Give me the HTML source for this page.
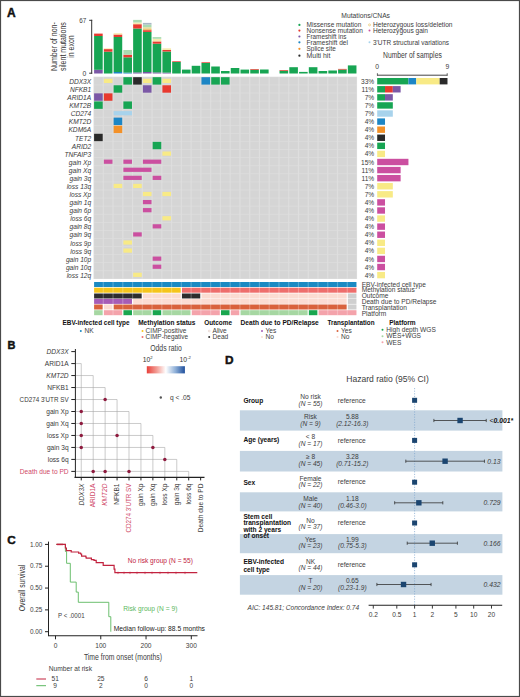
<!DOCTYPE html>
<html><head><meta charset="utf-8"><title>Figure</title>
<style>
html,body{margin:0;padding:0;background:#fff;}
body{width:520px;height:697px;overflow:hidden;}
svg{display:block;font-family:"Liberation Sans", sans-serif;}
</style></head>
<body>
<svg width="520" height="697" viewBox="0 0 520 697" fill="#3c3c3c">
<rect x="0" y="0" width="520" height="697" fill="#fff"/>
<text x="7.00" y="16.70" font-size="12" fill="#111" font-weight="bold" stroke="#111" stroke-width="0.45">A</text>
<text transform="translate(56.60,46.6) rotate(-90)" x="0" y="0" font-size="8.2" text-anchor="middle" fill="#333" textLength="49" lengthAdjust="spacingAndGlyphs">Number of non-</text>
<text transform="translate(65.60,46.6) rotate(-90)" x="0" y="0" font-size="8.2" text-anchor="middle" fill="#333" textLength="49" lengthAdjust="spacingAndGlyphs">silent mutations</text>
<text transform="translate(73.80,46.6) rotate(-90)" x="0" y="0" font-size="8.2" text-anchor="middle" fill="#333" textLength="22.5" lengthAdjust="spacingAndGlyphs">in exon</text>
<text x="86.30" y="23.11" font-size="6.8" text-anchor="end" textLength="7.00" lengthAdjust="spacingAndGlyphs">67</text>
<text x="86.30" y="75.51" font-size="6.8" text-anchor="end">0</text>
<line x1="91.70" y1="19.80" x2="91.70" y2="73.70" stroke="#333" stroke-width="1"/>
<line x1="89.20" y1="20.30" x2="92.20" y2="20.30" stroke="#333" stroke-width="1"/>
<line x1="89.20" y1="73.20" x2="92.20" y2="73.20" stroke="#333" stroke-width="1"/>
<rect x="94.10" y="69.80" width="8.60" height="3.70" fill="#7b58a6"/>
<rect x="94.10" y="36.00" width="8.60" height="33.80" fill="#17a553"/>
<rect x="94.10" y="33.60" width="8.60" height="2.40" fill="#e8392f"/>
<rect x="103.86" y="51.70" width="8.60" height="21.80" fill="#17a553"/>
<rect x="103.86" y="49.10" width="8.60" height="2.60" fill="#e8392f"/>
<rect x="103.86" y="48.30" width="8.60" height="0.80" fill="#f7eab0"/>
<rect x="113.62" y="72.00" width="8.60" height="1.50" fill="#1d86c5"/>
<rect x="113.62" y="37.00" width="8.60" height="35.00" fill="#17a553"/>
<rect x="113.62" y="34.50" width="8.60" height="2.50" fill="#e8392f"/>
<rect x="113.62" y="33.20" width="8.60" height="1.30" fill="#f7eab0"/>
<rect x="123.38" y="72.60" width="8.60" height="0.90" fill="#1d86c5"/>
<rect x="123.38" y="57.30" width="8.60" height="15.30" fill="#17a553"/>
<rect x="123.38" y="54.70" width="8.60" height="2.60" fill="#e8392f"/>
<rect x="123.38" y="50.00" width="8.60" height="4.70" fill="#a9dbb1"/>
<rect x="133.14" y="72.40" width="8.60" height="1.10" fill="#7b58a6"/>
<rect x="133.14" y="28.50" width="8.60" height="43.90" fill="#17a553"/>
<rect x="133.14" y="24.20" width="8.60" height="4.30" fill="#e8392f"/>
<rect x="133.14" y="22.50" width="8.60" height="1.70" fill="#f7eab0"/>
<rect x="133.14" y="19.90" width="8.60" height="2.60" fill="#a9dbb1"/>
<rect x="142.90" y="72.00" width="8.60" height="1.50" fill="#7b58a6"/>
<rect x="142.90" y="31.90" width="8.60" height="40.10" fill="#17a553"/>
<rect x="142.90" y="30.20" width="8.60" height="1.70" fill="#e8392f"/>
<rect x="142.90" y="29.30" width="8.60" height="0.90" fill="#f39128"/>
<rect x="142.90" y="27.20" width="8.60" height="2.10" fill="#e7dd9a"/>
<rect x="142.90" y="24.60" width="8.60" height="2.60" fill="#a9dbb1"/>
<rect x="142.90" y="22.90" width="8.60" height="1.70" fill="#a9b8c4"/>
<rect x="152.66" y="72.40" width="8.60" height="1.10" fill="#7b58a6"/>
<rect x="152.66" y="43.70" width="8.60" height="28.70" fill="#17a553"/>
<rect x="152.66" y="41.40" width="8.60" height="2.30" fill="#e8392f"/>
<rect x="152.66" y="38.80" width="8.60" height="2.60" fill="#f7eab0"/>
<rect x="152.66" y="37.10" width="8.60" height="1.70" fill="#a9dbb1"/>
<rect x="162.42" y="72.60" width="8.60" height="0.90" fill="#7b58a6"/>
<rect x="162.42" y="51.50" width="8.60" height="21.10" fill="#17a553"/>
<rect x="162.42" y="50.00" width="8.60" height="1.50" fill="#e8392f"/>
<rect x="162.42" y="48.30" width="8.60" height="1.70" fill="#f7eab0"/>
<rect x="172.18" y="62.00" width="8.60" height="11.50" fill="#17a553"/>
<rect x="172.18" y="61.30" width="8.60" height="0.70" fill="#e8392f"/>
<rect x="181.94" y="69.60" width="8.60" height="3.90" fill="#17a553"/>
<rect x="191.70" y="65.80" width="8.60" height="7.70" fill="#17a553"/>
<rect x="201.46" y="63.00" width="8.60" height="10.50" fill="#17a553"/>
<rect x="201.46" y="62.30" width="8.60" height="0.70" fill="#e8392f"/>
<rect x="211.22" y="66.50" width="8.60" height="7.00" fill="#17a553"/>
<rect x="220.98" y="71.00" width="8.60" height="2.50" fill="#17a553"/>
<rect x="230.74" y="68.00" width="8.60" height="5.50" fill="#17a553"/>
<rect x="240.50" y="69.60" width="8.60" height="3.90" fill="#17a553"/>
<rect x="250.26" y="69.70" width="8.60" height="3.80" fill="#17a553"/>
<rect x="250.26" y="69.00" width="8.60" height="0.70" fill="#e8392f"/>
<rect x="260.02" y="69.50" width="8.60" height="4.00" fill="#17a553"/>
<rect x="279.54" y="70.70" width="8.60" height="2.80" fill="#17a553"/>
<rect x="279.54" y="70.00" width="8.60" height="0.70" fill="#e8392f"/>
<rect x="289.30" y="67.20" width="8.60" height="6.30" fill="#17a553"/>
<rect x="299.06" y="71.90" width="8.60" height="1.60" fill="#17a553"/>
<rect x="308.82" y="67.20" width="8.60" height="6.30" fill="#17a553"/>
<rect x="318.58" y="71.00" width="8.60" height="2.50" fill="#17a553"/>
<rect x="328.34" y="70.50" width="8.60" height="3.00" fill="#17a553"/>
<rect x="338.10" y="69.60" width="8.60" height="3.90" fill="#17a553"/>
<rect x="338.10" y="68.90" width="8.60" height="0.70" fill="#e8392f"/>
<rect x="347.86" y="65.40" width="8.60" height="8.10" fill="#17a553"/>
<rect x="93.50" y="76.70" width="263.56" height="202.32" fill="#dedede"/>
<rect x="94.10" y="77.20" width="8.60" height="7.40" fill="#d5d5d5"/>
<rect x="103.86" y="77.20" width="8.60" height="7.40" fill="#d5d5d5"/>
<rect x="113.62" y="77.20" width="8.60" height="7.40" fill="#d5d5d5"/>
<rect x="123.38" y="77.20" width="8.60" height="7.40" fill="#d5d5d5"/>
<rect x="133.14" y="77.20" width="8.60" height="7.40" fill="#d5d5d5"/>
<rect x="142.90" y="77.20" width="8.60" height="7.40" fill="#d5d5d5"/>
<rect x="152.66" y="77.20" width="8.60" height="7.40" fill="#d5d5d5"/>
<rect x="162.42" y="77.20" width="8.60" height="7.40" fill="#d5d5d5"/>
<rect x="172.18" y="77.20" width="8.60" height="7.40" fill="#d5d5d5"/>
<rect x="181.94" y="77.20" width="8.60" height="7.40" fill="#d5d5d5"/>
<rect x="191.70" y="77.20" width="8.60" height="7.40" fill="#d5d5d5"/>
<rect x="201.46" y="77.20" width="8.60" height="7.40" fill="#d5d5d5"/>
<rect x="211.22" y="77.20" width="8.60" height="7.40" fill="#d5d5d5"/>
<rect x="220.98" y="77.20" width="8.60" height="7.40" fill="#d5d5d5"/>
<rect x="230.74" y="77.20" width="8.60" height="7.40" fill="#d5d5d5"/>
<rect x="240.50" y="77.20" width="8.60" height="7.40" fill="#d5d5d5"/>
<rect x="250.26" y="77.20" width="8.60" height="7.40" fill="#d5d5d5"/>
<rect x="260.02" y="77.20" width="8.60" height="7.40" fill="#d5d5d5"/>
<rect x="269.78" y="77.20" width="8.60" height="7.40" fill="#d5d5d5"/>
<rect x="279.54" y="77.20" width="8.60" height="7.40" fill="#d5d5d5"/>
<rect x="289.30" y="77.20" width="8.60" height="7.40" fill="#d5d5d5"/>
<rect x="299.06" y="77.20" width="8.60" height="7.40" fill="#d5d5d5"/>
<rect x="308.82" y="77.20" width="8.60" height="7.40" fill="#d5d5d5"/>
<rect x="318.58" y="77.20" width="8.60" height="7.40" fill="#d5d5d5"/>
<rect x="328.34" y="77.20" width="8.60" height="7.40" fill="#d5d5d5"/>
<rect x="338.10" y="77.20" width="8.60" height="7.40" fill="#d5d5d5"/>
<rect x="347.86" y="77.20" width="8.60" height="7.40" fill="#d5d5d5"/>
<rect x="94.10" y="85.28" width="8.60" height="7.40" fill="#d5d5d5"/>
<rect x="103.86" y="85.28" width="8.60" height="7.40" fill="#d5d5d5"/>
<rect x="113.62" y="85.28" width="8.60" height="7.40" fill="#d5d5d5"/>
<rect x="123.38" y="85.28" width="8.60" height="7.40" fill="#d5d5d5"/>
<rect x="133.14" y="85.28" width="8.60" height="7.40" fill="#d5d5d5"/>
<rect x="142.90" y="85.28" width="8.60" height="7.40" fill="#d5d5d5"/>
<rect x="152.66" y="85.28" width="8.60" height="7.40" fill="#d5d5d5"/>
<rect x="162.42" y="85.28" width="8.60" height="7.40" fill="#d5d5d5"/>
<rect x="172.18" y="85.28" width="8.60" height="7.40" fill="#d5d5d5"/>
<rect x="181.94" y="85.28" width="8.60" height="7.40" fill="#d5d5d5"/>
<rect x="191.70" y="85.28" width="8.60" height="7.40" fill="#d5d5d5"/>
<rect x="201.46" y="85.28" width="8.60" height="7.40" fill="#d5d5d5"/>
<rect x="211.22" y="85.28" width="8.60" height="7.40" fill="#d5d5d5"/>
<rect x="220.98" y="85.28" width="8.60" height="7.40" fill="#d5d5d5"/>
<rect x="230.74" y="85.28" width="8.60" height="7.40" fill="#d5d5d5"/>
<rect x="240.50" y="85.28" width="8.60" height="7.40" fill="#d5d5d5"/>
<rect x="250.26" y="85.28" width="8.60" height="7.40" fill="#d5d5d5"/>
<rect x="260.02" y="85.28" width="8.60" height="7.40" fill="#d5d5d5"/>
<rect x="269.78" y="85.28" width="8.60" height="7.40" fill="#d5d5d5"/>
<rect x="279.54" y="85.28" width="8.60" height="7.40" fill="#d5d5d5"/>
<rect x="289.30" y="85.28" width="8.60" height="7.40" fill="#d5d5d5"/>
<rect x="299.06" y="85.28" width="8.60" height="7.40" fill="#d5d5d5"/>
<rect x="308.82" y="85.28" width="8.60" height="7.40" fill="#d5d5d5"/>
<rect x="318.58" y="85.28" width="8.60" height="7.40" fill="#d5d5d5"/>
<rect x="328.34" y="85.28" width="8.60" height="7.40" fill="#d5d5d5"/>
<rect x="338.10" y="85.28" width="8.60" height="7.40" fill="#d5d5d5"/>
<rect x="347.86" y="85.28" width="8.60" height="7.40" fill="#d5d5d5"/>
<rect x="94.10" y="93.36" width="8.60" height="7.40" fill="#d5d5d5"/>
<rect x="103.86" y="93.36" width="8.60" height="7.40" fill="#d5d5d5"/>
<rect x="113.62" y="93.36" width="8.60" height="7.40" fill="#d5d5d5"/>
<rect x="123.38" y="93.36" width="8.60" height="7.40" fill="#d5d5d5"/>
<rect x="133.14" y="93.36" width="8.60" height="7.40" fill="#d5d5d5"/>
<rect x="142.90" y="93.36" width="8.60" height="7.40" fill="#d5d5d5"/>
<rect x="152.66" y="93.36" width="8.60" height="7.40" fill="#d5d5d5"/>
<rect x="162.42" y="93.36" width="8.60" height="7.40" fill="#d5d5d5"/>
<rect x="172.18" y="93.36" width="8.60" height="7.40" fill="#d5d5d5"/>
<rect x="181.94" y="93.36" width="8.60" height="7.40" fill="#d5d5d5"/>
<rect x="191.70" y="93.36" width="8.60" height="7.40" fill="#d5d5d5"/>
<rect x="201.46" y="93.36" width="8.60" height="7.40" fill="#d5d5d5"/>
<rect x="211.22" y="93.36" width="8.60" height="7.40" fill="#d5d5d5"/>
<rect x="220.98" y="93.36" width="8.60" height="7.40" fill="#d5d5d5"/>
<rect x="230.74" y="93.36" width="8.60" height="7.40" fill="#d5d5d5"/>
<rect x="240.50" y="93.36" width="8.60" height="7.40" fill="#d5d5d5"/>
<rect x="250.26" y="93.36" width="8.60" height="7.40" fill="#d5d5d5"/>
<rect x="260.02" y="93.36" width="8.60" height="7.40" fill="#d5d5d5"/>
<rect x="269.78" y="93.36" width="8.60" height="7.40" fill="#d5d5d5"/>
<rect x="279.54" y="93.36" width="8.60" height="7.40" fill="#d5d5d5"/>
<rect x="289.30" y="93.36" width="8.60" height="7.40" fill="#d5d5d5"/>
<rect x="299.06" y="93.36" width="8.60" height="7.40" fill="#d5d5d5"/>
<rect x="308.82" y="93.36" width="8.60" height="7.40" fill="#d5d5d5"/>
<rect x="318.58" y="93.36" width="8.60" height="7.40" fill="#d5d5d5"/>
<rect x="328.34" y="93.36" width="8.60" height="7.40" fill="#d5d5d5"/>
<rect x="338.10" y="93.36" width="8.60" height="7.40" fill="#d5d5d5"/>
<rect x="347.86" y="93.36" width="8.60" height="7.40" fill="#d5d5d5"/>
<rect x="94.10" y="101.44" width="8.60" height="7.40" fill="#d5d5d5"/>
<rect x="103.86" y="101.44" width="8.60" height="7.40" fill="#d5d5d5"/>
<rect x="113.62" y="101.44" width="8.60" height="7.40" fill="#d5d5d5"/>
<rect x="123.38" y="101.44" width="8.60" height="7.40" fill="#d5d5d5"/>
<rect x="133.14" y="101.44" width="8.60" height="7.40" fill="#d5d5d5"/>
<rect x="142.90" y="101.44" width="8.60" height="7.40" fill="#d5d5d5"/>
<rect x="152.66" y="101.44" width="8.60" height="7.40" fill="#d5d5d5"/>
<rect x="162.42" y="101.44" width="8.60" height="7.40" fill="#d5d5d5"/>
<rect x="172.18" y="101.44" width="8.60" height="7.40" fill="#d5d5d5"/>
<rect x="181.94" y="101.44" width="8.60" height="7.40" fill="#d5d5d5"/>
<rect x="191.70" y="101.44" width="8.60" height="7.40" fill="#d5d5d5"/>
<rect x="201.46" y="101.44" width="8.60" height="7.40" fill="#d5d5d5"/>
<rect x="211.22" y="101.44" width="8.60" height="7.40" fill="#d5d5d5"/>
<rect x="220.98" y="101.44" width="8.60" height="7.40" fill="#d5d5d5"/>
<rect x="230.74" y="101.44" width="8.60" height="7.40" fill="#d5d5d5"/>
<rect x="240.50" y="101.44" width="8.60" height="7.40" fill="#d5d5d5"/>
<rect x="250.26" y="101.44" width="8.60" height="7.40" fill="#d5d5d5"/>
<rect x="260.02" y="101.44" width="8.60" height="7.40" fill="#d5d5d5"/>
<rect x="269.78" y="101.44" width="8.60" height="7.40" fill="#d5d5d5"/>
<rect x="279.54" y="101.44" width="8.60" height="7.40" fill="#d5d5d5"/>
<rect x="289.30" y="101.44" width="8.60" height="7.40" fill="#d5d5d5"/>
<rect x="299.06" y="101.44" width="8.60" height="7.40" fill="#d5d5d5"/>
<rect x="308.82" y="101.44" width="8.60" height="7.40" fill="#d5d5d5"/>
<rect x="318.58" y="101.44" width="8.60" height="7.40" fill="#d5d5d5"/>
<rect x="328.34" y="101.44" width="8.60" height="7.40" fill="#d5d5d5"/>
<rect x="338.10" y="101.44" width="8.60" height="7.40" fill="#d5d5d5"/>
<rect x="347.86" y="101.44" width="8.60" height="7.40" fill="#d5d5d5"/>
<rect x="94.10" y="109.52" width="8.60" height="7.40" fill="#d5d5d5"/>
<rect x="103.86" y="109.52" width="8.60" height="7.40" fill="#d5d5d5"/>
<rect x="113.62" y="109.52" width="8.60" height="7.40" fill="#d5d5d5"/>
<rect x="123.38" y="109.52" width="8.60" height="7.40" fill="#d5d5d5"/>
<rect x="133.14" y="109.52" width="8.60" height="7.40" fill="#d5d5d5"/>
<rect x="142.90" y="109.52" width="8.60" height="7.40" fill="#d5d5d5"/>
<rect x="152.66" y="109.52" width="8.60" height="7.40" fill="#d5d5d5"/>
<rect x="162.42" y="109.52" width="8.60" height="7.40" fill="#d5d5d5"/>
<rect x="172.18" y="109.52" width="8.60" height="7.40" fill="#d5d5d5"/>
<rect x="181.94" y="109.52" width="8.60" height="7.40" fill="#d5d5d5"/>
<rect x="191.70" y="109.52" width="8.60" height="7.40" fill="#d5d5d5"/>
<rect x="201.46" y="109.52" width="8.60" height="7.40" fill="#d5d5d5"/>
<rect x="211.22" y="109.52" width="8.60" height="7.40" fill="#d5d5d5"/>
<rect x="220.98" y="109.52" width="8.60" height="7.40" fill="#d5d5d5"/>
<rect x="230.74" y="109.52" width="8.60" height="7.40" fill="#d5d5d5"/>
<rect x="240.50" y="109.52" width="8.60" height="7.40" fill="#d5d5d5"/>
<rect x="250.26" y="109.52" width="8.60" height="7.40" fill="#d5d5d5"/>
<rect x="260.02" y="109.52" width="8.60" height="7.40" fill="#d5d5d5"/>
<rect x="269.78" y="109.52" width="8.60" height="7.40" fill="#d5d5d5"/>
<rect x="279.54" y="109.52" width="8.60" height="7.40" fill="#d5d5d5"/>
<rect x="289.30" y="109.52" width="8.60" height="7.40" fill="#d5d5d5"/>
<rect x="299.06" y="109.52" width="8.60" height="7.40" fill="#d5d5d5"/>
<rect x="308.82" y="109.52" width="8.60" height="7.40" fill="#d5d5d5"/>
<rect x="318.58" y="109.52" width="8.60" height="7.40" fill="#d5d5d5"/>
<rect x="328.34" y="109.52" width="8.60" height="7.40" fill="#d5d5d5"/>
<rect x="338.10" y="109.52" width="8.60" height="7.40" fill="#d5d5d5"/>
<rect x="347.86" y="109.52" width="8.60" height="7.40" fill="#d5d5d5"/>
<rect x="94.10" y="117.60" width="8.60" height="7.40" fill="#d5d5d5"/>
<rect x="103.86" y="117.60" width="8.60" height="7.40" fill="#d5d5d5"/>
<rect x="113.62" y="117.60" width="8.60" height="7.40" fill="#d5d5d5"/>
<rect x="123.38" y="117.60" width="8.60" height="7.40" fill="#d5d5d5"/>
<rect x="133.14" y="117.60" width="8.60" height="7.40" fill="#d5d5d5"/>
<rect x="142.90" y="117.60" width="8.60" height="7.40" fill="#d5d5d5"/>
<rect x="152.66" y="117.60" width="8.60" height="7.40" fill="#d5d5d5"/>
<rect x="162.42" y="117.60" width="8.60" height="7.40" fill="#d5d5d5"/>
<rect x="172.18" y="117.60" width="8.60" height="7.40" fill="#d5d5d5"/>
<rect x="181.94" y="117.60" width="8.60" height="7.40" fill="#d5d5d5"/>
<rect x="191.70" y="117.60" width="8.60" height="7.40" fill="#d5d5d5"/>
<rect x="201.46" y="117.60" width="8.60" height="7.40" fill="#d5d5d5"/>
<rect x="211.22" y="117.60" width="8.60" height="7.40" fill="#d5d5d5"/>
<rect x="220.98" y="117.60" width="8.60" height="7.40" fill="#d5d5d5"/>
<rect x="230.74" y="117.60" width="8.60" height="7.40" fill="#d5d5d5"/>
<rect x="240.50" y="117.60" width="8.60" height="7.40" fill="#d5d5d5"/>
<rect x="250.26" y="117.60" width="8.60" height="7.40" fill="#d5d5d5"/>
<rect x="260.02" y="117.60" width="8.60" height="7.40" fill="#d5d5d5"/>
<rect x="269.78" y="117.60" width="8.60" height="7.40" fill="#d5d5d5"/>
<rect x="279.54" y="117.60" width="8.60" height="7.40" fill="#d5d5d5"/>
<rect x="289.30" y="117.60" width="8.60" height="7.40" fill="#d5d5d5"/>
<rect x="299.06" y="117.60" width="8.60" height="7.40" fill="#d5d5d5"/>
<rect x="308.82" y="117.60" width="8.60" height="7.40" fill="#d5d5d5"/>
<rect x="318.58" y="117.60" width="8.60" height="7.40" fill="#d5d5d5"/>
<rect x="328.34" y="117.60" width="8.60" height="7.40" fill="#d5d5d5"/>
<rect x="338.10" y="117.60" width="8.60" height="7.40" fill="#d5d5d5"/>
<rect x="347.86" y="117.60" width="8.60" height="7.40" fill="#d5d5d5"/>
<rect x="94.10" y="125.68" width="8.60" height="7.40" fill="#d5d5d5"/>
<rect x="103.86" y="125.68" width="8.60" height="7.40" fill="#d5d5d5"/>
<rect x="113.62" y="125.68" width="8.60" height="7.40" fill="#d5d5d5"/>
<rect x="123.38" y="125.68" width="8.60" height="7.40" fill="#d5d5d5"/>
<rect x="133.14" y="125.68" width="8.60" height="7.40" fill="#d5d5d5"/>
<rect x="142.90" y="125.68" width="8.60" height="7.40" fill="#d5d5d5"/>
<rect x="152.66" y="125.68" width="8.60" height="7.40" fill="#d5d5d5"/>
<rect x="162.42" y="125.68" width="8.60" height="7.40" fill="#d5d5d5"/>
<rect x="172.18" y="125.68" width="8.60" height="7.40" fill="#d5d5d5"/>
<rect x="181.94" y="125.68" width="8.60" height="7.40" fill="#d5d5d5"/>
<rect x="191.70" y="125.68" width="8.60" height="7.40" fill="#d5d5d5"/>
<rect x="201.46" y="125.68" width="8.60" height="7.40" fill="#d5d5d5"/>
<rect x="211.22" y="125.68" width="8.60" height="7.40" fill="#d5d5d5"/>
<rect x="220.98" y="125.68" width="8.60" height="7.40" fill="#d5d5d5"/>
<rect x="230.74" y="125.68" width="8.60" height="7.40" fill="#d5d5d5"/>
<rect x="240.50" y="125.68" width="8.60" height="7.40" fill="#d5d5d5"/>
<rect x="250.26" y="125.68" width="8.60" height="7.40" fill="#d5d5d5"/>
<rect x="260.02" y="125.68" width="8.60" height="7.40" fill="#d5d5d5"/>
<rect x="269.78" y="125.68" width="8.60" height="7.40" fill="#d5d5d5"/>
<rect x="279.54" y="125.68" width="8.60" height="7.40" fill="#d5d5d5"/>
<rect x="289.30" y="125.68" width="8.60" height="7.40" fill="#d5d5d5"/>
<rect x="299.06" y="125.68" width="8.60" height="7.40" fill="#d5d5d5"/>
<rect x="308.82" y="125.68" width="8.60" height="7.40" fill="#d5d5d5"/>
<rect x="318.58" y="125.68" width="8.60" height="7.40" fill="#d5d5d5"/>
<rect x="328.34" y="125.68" width="8.60" height="7.40" fill="#d5d5d5"/>
<rect x="338.10" y="125.68" width="8.60" height="7.40" fill="#d5d5d5"/>
<rect x="347.86" y="125.68" width="8.60" height="7.40" fill="#d5d5d5"/>
<rect x="94.10" y="133.76" width="8.60" height="7.40" fill="#d5d5d5"/>
<rect x="103.86" y="133.76" width="8.60" height="7.40" fill="#d5d5d5"/>
<rect x="113.62" y="133.76" width="8.60" height="7.40" fill="#d5d5d5"/>
<rect x="123.38" y="133.76" width="8.60" height="7.40" fill="#d5d5d5"/>
<rect x="133.14" y="133.76" width="8.60" height="7.40" fill="#d5d5d5"/>
<rect x="142.90" y="133.76" width="8.60" height="7.40" fill="#d5d5d5"/>
<rect x="152.66" y="133.76" width="8.60" height="7.40" fill="#d5d5d5"/>
<rect x="162.42" y="133.76" width="8.60" height="7.40" fill="#d5d5d5"/>
<rect x="172.18" y="133.76" width="8.60" height="7.40" fill="#d5d5d5"/>
<rect x="181.94" y="133.76" width="8.60" height="7.40" fill="#d5d5d5"/>
<rect x="191.70" y="133.76" width="8.60" height="7.40" fill="#d5d5d5"/>
<rect x="201.46" y="133.76" width="8.60" height="7.40" fill="#d5d5d5"/>
<rect x="211.22" y="133.76" width="8.60" height="7.40" fill="#d5d5d5"/>
<rect x="220.98" y="133.76" width="8.60" height="7.40" fill="#d5d5d5"/>
<rect x="230.74" y="133.76" width="8.60" height="7.40" fill="#d5d5d5"/>
<rect x="240.50" y="133.76" width="8.60" height="7.40" fill="#d5d5d5"/>
<rect x="250.26" y="133.76" width="8.60" height="7.40" fill="#d5d5d5"/>
<rect x="260.02" y="133.76" width="8.60" height="7.40" fill="#d5d5d5"/>
<rect x="269.78" y="133.76" width="8.60" height="7.40" fill="#d5d5d5"/>
<rect x="279.54" y="133.76" width="8.60" height="7.40" fill="#d5d5d5"/>
<rect x="289.30" y="133.76" width="8.60" height="7.40" fill="#d5d5d5"/>
<rect x="299.06" y="133.76" width="8.60" height="7.40" fill="#d5d5d5"/>
<rect x="308.82" y="133.76" width="8.60" height="7.40" fill="#d5d5d5"/>
<rect x="318.58" y="133.76" width="8.60" height="7.40" fill="#d5d5d5"/>
<rect x="328.34" y="133.76" width="8.60" height="7.40" fill="#d5d5d5"/>
<rect x="338.10" y="133.76" width="8.60" height="7.40" fill="#d5d5d5"/>
<rect x="347.86" y="133.76" width="8.60" height="7.40" fill="#d5d5d5"/>
<rect x="94.10" y="141.84" width="8.60" height="7.40" fill="#d5d5d5"/>
<rect x="103.86" y="141.84" width="8.60" height="7.40" fill="#d5d5d5"/>
<rect x="113.62" y="141.84" width="8.60" height="7.40" fill="#d5d5d5"/>
<rect x="123.38" y="141.84" width="8.60" height="7.40" fill="#d5d5d5"/>
<rect x="133.14" y="141.84" width="8.60" height="7.40" fill="#d5d5d5"/>
<rect x="142.90" y="141.84" width="8.60" height="7.40" fill="#d5d5d5"/>
<rect x="152.66" y="141.84" width="8.60" height="7.40" fill="#d5d5d5"/>
<rect x="162.42" y="141.84" width="8.60" height="7.40" fill="#d5d5d5"/>
<rect x="172.18" y="141.84" width="8.60" height="7.40" fill="#d5d5d5"/>
<rect x="181.94" y="141.84" width="8.60" height="7.40" fill="#d5d5d5"/>
<rect x="191.70" y="141.84" width="8.60" height="7.40" fill="#d5d5d5"/>
<rect x="201.46" y="141.84" width="8.60" height="7.40" fill="#d5d5d5"/>
<rect x="211.22" y="141.84" width="8.60" height="7.40" fill="#d5d5d5"/>
<rect x="220.98" y="141.84" width="8.60" height="7.40" fill="#d5d5d5"/>
<rect x="230.74" y="141.84" width="8.60" height="7.40" fill="#d5d5d5"/>
<rect x="240.50" y="141.84" width="8.60" height="7.40" fill="#d5d5d5"/>
<rect x="250.26" y="141.84" width="8.60" height="7.40" fill="#d5d5d5"/>
<rect x="260.02" y="141.84" width="8.60" height="7.40" fill="#d5d5d5"/>
<rect x="269.78" y="141.84" width="8.60" height="7.40" fill="#d5d5d5"/>
<rect x="279.54" y="141.84" width="8.60" height="7.40" fill="#d5d5d5"/>
<rect x="289.30" y="141.84" width="8.60" height="7.40" fill="#d5d5d5"/>
<rect x="299.06" y="141.84" width="8.60" height="7.40" fill="#d5d5d5"/>
<rect x="308.82" y="141.84" width="8.60" height="7.40" fill="#d5d5d5"/>
<rect x="318.58" y="141.84" width="8.60" height="7.40" fill="#d5d5d5"/>
<rect x="328.34" y="141.84" width="8.60" height="7.40" fill="#d5d5d5"/>
<rect x="338.10" y="141.84" width="8.60" height="7.40" fill="#d5d5d5"/>
<rect x="347.86" y="141.84" width="8.60" height="7.40" fill="#d5d5d5"/>
<rect x="94.10" y="149.92" width="8.60" height="7.40" fill="#d5d5d5"/>
<rect x="103.86" y="149.92" width="8.60" height="7.40" fill="#d5d5d5"/>
<rect x="113.62" y="149.92" width="8.60" height="7.40" fill="#d5d5d5"/>
<rect x="123.38" y="149.92" width="8.60" height="7.40" fill="#d5d5d5"/>
<rect x="133.14" y="149.92" width="8.60" height="7.40" fill="#d5d5d5"/>
<rect x="142.90" y="149.92" width="8.60" height="7.40" fill="#d5d5d5"/>
<rect x="152.66" y="149.92" width="8.60" height="7.40" fill="#d5d5d5"/>
<rect x="162.42" y="149.92" width="8.60" height="7.40" fill="#d5d5d5"/>
<rect x="172.18" y="149.92" width="8.60" height="7.40" fill="#d5d5d5"/>
<rect x="181.94" y="149.92" width="8.60" height="7.40" fill="#d5d5d5"/>
<rect x="191.70" y="149.92" width="8.60" height="7.40" fill="#d5d5d5"/>
<rect x="201.46" y="149.92" width="8.60" height="7.40" fill="#d5d5d5"/>
<rect x="211.22" y="149.92" width="8.60" height="7.40" fill="#d5d5d5"/>
<rect x="220.98" y="149.92" width="8.60" height="7.40" fill="#d5d5d5"/>
<rect x="230.74" y="149.92" width="8.60" height="7.40" fill="#d5d5d5"/>
<rect x="240.50" y="149.92" width="8.60" height="7.40" fill="#d5d5d5"/>
<rect x="250.26" y="149.92" width="8.60" height="7.40" fill="#d5d5d5"/>
<rect x="260.02" y="149.92" width="8.60" height="7.40" fill="#d5d5d5"/>
<rect x="269.78" y="149.92" width="8.60" height="7.40" fill="#d5d5d5"/>
<rect x="279.54" y="149.92" width="8.60" height="7.40" fill="#d5d5d5"/>
<rect x="289.30" y="149.92" width="8.60" height="7.40" fill="#d5d5d5"/>
<rect x="299.06" y="149.92" width="8.60" height="7.40" fill="#d5d5d5"/>
<rect x="308.82" y="149.92" width="8.60" height="7.40" fill="#d5d5d5"/>
<rect x="318.58" y="149.92" width="8.60" height="7.40" fill="#d5d5d5"/>
<rect x="328.34" y="149.92" width="8.60" height="7.40" fill="#d5d5d5"/>
<rect x="338.10" y="149.92" width="8.60" height="7.40" fill="#d5d5d5"/>
<rect x="347.86" y="149.92" width="8.60" height="7.40" fill="#d5d5d5"/>
<rect x="94.10" y="158.00" width="8.60" height="7.40" fill="#d5d5d5"/>
<rect x="103.86" y="158.00" width="8.60" height="7.40" fill="#d5d5d5"/>
<rect x="113.62" y="158.00" width="8.60" height="7.40" fill="#d5d5d5"/>
<rect x="123.38" y="158.00" width="8.60" height="7.40" fill="#d5d5d5"/>
<rect x="133.14" y="158.00" width="8.60" height="7.40" fill="#d5d5d5"/>
<rect x="142.90" y="158.00" width="8.60" height="7.40" fill="#d5d5d5"/>
<rect x="152.66" y="158.00" width="8.60" height="7.40" fill="#d5d5d5"/>
<rect x="162.42" y="158.00" width="8.60" height="7.40" fill="#d5d5d5"/>
<rect x="172.18" y="158.00" width="8.60" height="7.40" fill="#d5d5d5"/>
<rect x="181.94" y="158.00" width="8.60" height="7.40" fill="#d5d5d5"/>
<rect x="191.70" y="158.00" width="8.60" height="7.40" fill="#d5d5d5"/>
<rect x="201.46" y="158.00" width="8.60" height="7.40" fill="#d5d5d5"/>
<rect x="211.22" y="158.00" width="8.60" height="7.40" fill="#d5d5d5"/>
<rect x="220.98" y="158.00" width="8.60" height="7.40" fill="#d5d5d5"/>
<rect x="230.74" y="158.00" width="8.60" height="7.40" fill="#d5d5d5"/>
<rect x="240.50" y="158.00" width="8.60" height="7.40" fill="#d5d5d5"/>
<rect x="250.26" y="158.00" width="8.60" height="7.40" fill="#d5d5d5"/>
<rect x="260.02" y="158.00" width="8.60" height="7.40" fill="#d5d5d5"/>
<rect x="269.78" y="158.00" width="8.60" height="7.40" fill="#d5d5d5"/>
<rect x="279.54" y="158.00" width="8.60" height="7.40" fill="#d5d5d5"/>
<rect x="289.30" y="158.00" width="8.60" height="7.40" fill="#d5d5d5"/>
<rect x="299.06" y="158.00" width="8.60" height="7.40" fill="#d5d5d5"/>
<rect x="308.82" y="158.00" width="8.60" height="7.40" fill="#d5d5d5"/>
<rect x="318.58" y="158.00" width="8.60" height="7.40" fill="#d5d5d5"/>
<rect x="328.34" y="158.00" width="8.60" height="7.40" fill="#d5d5d5"/>
<rect x="338.10" y="158.00" width="8.60" height="7.40" fill="#d5d5d5"/>
<rect x="347.86" y="158.00" width="8.60" height="7.40" fill="#d5d5d5"/>
<rect x="94.10" y="166.08" width="8.60" height="7.40" fill="#d5d5d5"/>
<rect x="103.86" y="166.08" width="8.60" height="7.40" fill="#d5d5d5"/>
<rect x="113.62" y="166.08" width="8.60" height="7.40" fill="#d5d5d5"/>
<rect x="123.38" y="166.08" width="8.60" height="7.40" fill="#d5d5d5"/>
<rect x="133.14" y="166.08" width="8.60" height="7.40" fill="#d5d5d5"/>
<rect x="142.90" y="166.08" width="8.60" height="7.40" fill="#d5d5d5"/>
<rect x="152.66" y="166.08" width="8.60" height="7.40" fill="#d5d5d5"/>
<rect x="162.42" y="166.08" width="8.60" height="7.40" fill="#d5d5d5"/>
<rect x="172.18" y="166.08" width="8.60" height="7.40" fill="#d5d5d5"/>
<rect x="181.94" y="166.08" width="8.60" height="7.40" fill="#d5d5d5"/>
<rect x="191.70" y="166.08" width="8.60" height="7.40" fill="#d5d5d5"/>
<rect x="201.46" y="166.08" width="8.60" height="7.40" fill="#d5d5d5"/>
<rect x="211.22" y="166.08" width="8.60" height="7.40" fill="#d5d5d5"/>
<rect x="220.98" y="166.08" width="8.60" height="7.40" fill="#d5d5d5"/>
<rect x="230.74" y="166.08" width="8.60" height="7.40" fill="#d5d5d5"/>
<rect x="240.50" y="166.08" width="8.60" height="7.40" fill="#d5d5d5"/>
<rect x="250.26" y="166.08" width="8.60" height="7.40" fill="#d5d5d5"/>
<rect x="260.02" y="166.08" width="8.60" height="7.40" fill="#d5d5d5"/>
<rect x="269.78" y="166.08" width="8.60" height="7.40" fill="#d5d5d5"/>
<rect x="279.54" y="166.08" width="8.60" height="7.40" fill="#d5d5d5"/>
<rect x="289.30" y="166.08" width="8.60" height="7.40" fill="#d5d5d5"/>
<rect x="299.06" y="166.08" width="8.60" height="7.40" fill="#d5d5d5"/>
<rect x="308.82" y="166.08" width="8.60" height="7.40" fill="#d5d5d5"/>
<rect x="318.58" y="166.08" width="8.60" height="7.40" fill="#d5d5d5"/>
<rect x="328.34" y="166.08" width="8.60" height="7.40" fill="#d5d5d5"/>
<rect x="338.10" y="166.08" width="8.60" height="7.40" fill="#d5d5d5"/>
<rect x="347.86" y="166.08" width="8.60" height="7.40" fill="#d5d5d5"/>
<rect x="94.10" y="174.16" width="8.60" height="7.40" fill="#d5d5d5"/>
<rect x="103.86" y="174.16" width="8.60" height="7.40" fill="#d5d5d5"/>
<rect x="113.62" y="174.16" width="8.60" height="7.40" fill="#d5d5d5"/>
<rect x="123.38" y="174.16" width="8.60" height="7.40" fill="#d5d5d5"/>
<rect x="133.14" y="174.16" width="8.60" height="7.40" fill="#d5d5d5"/>
<rect x="142.90" y="174.16" width="8.60" height="7.40" fill="#d5d5d5"/>
<rect x="152.66" y="174.16" width="8.60" height="7.40" fill="#d5d5d5"/>
<rect x="162.42" y="174.16" width="8.60" height="7.40" fill="#d5d5d5"/>
<rect x="172.18" y="174.16" width="8.60" height="7.40" fill="#d5d5d5"/>
<rect x="181.94" y="174.16" width="8.60" height="7.40" fill="#d5d5d5"/>
<rect x="191.70" y="174.16" width="8.60" height="7.40" fill="#d5d5d5"/>
<rect x="201.46" y="174.16" width="8.60" height="7.40" fill="#d5d5d5"/>
<rect x="211.22" y="174.16" width="8.60" height="7.40" fill="#d5d5d5"/>
<rect x="220.98" y="174.16" width="8.60" height="7.40" fill="#d5d5d5"/>
<rect x="230.74" y="174.16" width="8.60" height="7.40" fill="#d5d5d5"/>
<rect x="240.50" y="174.16" width="8.60" height="7.40" fill="#d5d5d5"/>
<rect x="250.26" y="174.16" width="8.60" height="7.40" fill="#d5d5d5"/>
<rect x="260.02" y="174.16" width="8.60" height="7.40" fill="#d5d5d5"/>
<rect x="269.78" y="174.16" width="8.60" height="7.40" fill="#d5d5d5"/>
<rect x="279.54" y="174.16" width="8.60" height="7.40" fill="#d5d5d5"/>
<rect x="289.30" y="174.16" width="8.60" height="7.40" fill="#d5d5d5"/>
<rect x="299.06" y="174.16" width="8.60" height="7.40" fill="#d5d5d5"/>
<rect x="308.82" y="174.16" width="8.60" height="7.40" fill="#d5d5d5"/>
<rect x="318.58" y="174.16" width="8.60" height="7.40" fill="#d5d5d5"/>
<rect x="328.34" y="174.16" width="8.60" height="7.40" fill="#d5d5d5"/>
<rect x="338.10" y="174.16" width="8.60" height="7.40" fill="#d5d5d5"/>
<rect x="347.86" y="174.16" width="8.60" height="7.40" fill="#d5d5d5"/>
<rect x="94.10" y="182.24" width="8.60" height="7.40" fill="#d5d5d5"/>
<rect x="103.86" y="182.24" width="8.60" height="7.40" fill="#d5d5d5"/>
<rect x="113.62" y="182.24" width="8.60" height="7.40" fill="#d5d5d5"/>
<rect x="123.38" y="182.24" width="8.60" height="7.40" fill="#d5d5d5"/>
<rect x="133.14" y="182.24" width="8.60" height="7.40" fill="#d5d5d5"/>
<rect x="142.90" y="182.24" width="8.60" height="7.40" fill="#d5d5d5"/>
<rect x="152.66" y="182.24" width="8.60" height="7.40" fill="#d5d5d5"/>
<rect x="162.42" y="182.24" width="8.60" height="7.40" fill="#d5d5d5"/>
<rect x="172.18" y="182.24" width="8.60" height="7.40" fill="#d5d5d5"/>
<rect x="181.94" y="182.24" width="8.60" height="7.40" fill="#d5d5d5"/>
<rect x="191.70" y="182.24" width="8.60" height="7.40" fill="#d5d5d5"/>
<rect x="201.46" y="182.24" width="8.60" height="7.40" fill="#d5d5d5"/>
<rect x="211.22" y="182.24" width="8.60" height="7.40" fill="#d5d5d5"/>
<rect x="220.98" y="182.24" width="8.60" height="7.40" fill="#d5d5d5"/>
<rect x="230.74" y="182.24" width="8.60" height="7.40" fill="#d5d5d5"/>
<rect x="240.50" y="182.24" width="8.60" height="7.40" fill="#d5d5d5"/>
<rect x="250.26" y="182.24" width="8.60" height="7.40" fill="#d5d5d5"/>
<rect x="260.02" y="182.24" width="8.60" height="7.40" fill="#d5d5d5"/>
<rect x="269.78" y="182.24" width="8.60" height="7.40" fill="#d5d5d5"/>
<rect x="279.54" y="182.24" width="8.60" height="7.40" fill="#d5d5d5"/>
<rect x="289.30" y="182.24" width="8.60" height="7.40" fill="#d5d5d5"/>
<rect x="299.06" y="182.24" width="8.60" height="7.40" fill="#d5d5d5"/>
<rect x="308.82" y="182.24" width="8.60" height="7.40" fill="#d5d5d5"/>
<rect x="318.58" y="182.24" width="8.60" height="7.40" fill="#d5d5d5"/>
<rect x="328.34" y="182.24" width="8.60" height="7.40" fill="#d5d5d5"/>
<rect x="338.10" y="182.24" width="8.60" height="7.40" fill="#d5d5d5"/>
<rect x="347.86" y="182.24" width="8.60" height="7.40" fill="#d5d5d5"/>
<rect x="94.10" y="190.32" width="8.60" height="7.40" fill="#d5d5d5"/>
<rect x="103.86" y="190.32" width="8.60" height="7.40" fill="#d5d5d5"/>
<rect x="113.62" y="190.32" width="8.60" height="7.40" fill="#d5d5d5"/>
<rect x="123.38" y="190.32" width="8.60" height="7.40" fill="#d5d5d5"/>
<rect x="133.14" y="190.32" width="8.60" height="7.40" fill="#d5d5d5"/>
<rect x="142.90" y="190.32" width="8.60" height="7.40" fill="#d5d5d5"/>
<rect x="152.66" y="190.32" width="8.60" height="7.40" fill="#d5d5d5"/>
<rect x="162.42" y="190.32" width="8.60" height="7.40" fill="#d5d5d5"/>
<rect x="172.18" y="190.32" width="8.60" height="7.40" fill="#d5d5d5"/>
<rect x="181.94" y="190.32" width="8.60" height="7.40" fill="#d5d5d5"/>
<rect x="191.70" y="190.32" width="8.60" height="7.40" fill="#d5d5d5"/>
<rect x="201.46" y="190.32" width="8.60" height="7.40" fill="#d5d5d5"/>
<rect x="211.22" y="190.32" width="8.60" height="7.40" fill="#d5d5d5"/>
<rect x="220.98" y="190.32" width="8.60" height="7.40" fill="#d5d5d5"/>
<rect x="230.74" y="190.32" width="8.60" height="7.40" fill="#d5d5d5"/>
<rect x="240.50" y="190.32" width="8.60" height="7.40" fill="#d5d5d5"/>
<rect x="250.26" y="190.32" width="8.60" height="7.40" fill="#d5d5d5"/>
<rect x="260.02" y="190.32" width="8.60" height="7.40" fill="#d5d5d5"/>
<rect x="269.78" y="190.32" width="8.60" height="7.40" fill="#d5d5d5"/>
<rect x="279.54" y="190.32" width="8.60" height="7.40" fill="#d5d5d5"/>
<rect x="289.30" y="190.32" width="8.60" height="7.40" fill="#d5d5d5"/>
<rect x="299.06" y="190.32" width="8.60" height="7.40" fill="#d5d5d5"/>
<rect x="308.82" y="190.32" width="8.60" height="7.40" fill="#d5d5d5"/>
<rect x="318.58" y="190.32" width="8.60" height="7.40" fill="#d5d5d5"/>
<rect x="328.34" y="190.32" width="8.60" height="7.40" fill="#d5d5d5"/>
<rect x="338.10" y="190.32" width="8.60" height="7.40" fill="#d5d5d5"/>
<rect x="347.86" y="190.32" width="8.60" height="7.40" fill="#d5d5d5"/>
<rect x="94.10" y="198.40" width="8.60" height="7.40" fill="#d5d5d5"/>
<rect x="103.86" y="198.40" width="8.60" height="7.40" fill="#d5d5d5"/>
<rect x="113.62" y="198.40" width="8.60" height="7.40" fill="#d5d5d5"/>
<rect x="123.38" y="198.40" width="8.60" height="7.40" fill="#d5d5d5"/>
<rect x="133.14" y="198.40" width="8.60" height="7.40" fill="#d5d5d5"/>
<rect x="142.90" y="198.40" width="8.60" height="7.40" fill="#d5d5d5"/>
<rect x="152.66" y="198.40" width="8.60" height="7.40" fill="#d5d5d5"/>
<rect x="162.42" y="198.40" width="8.60" height="7.40" fill="#d5d5d5"/>
<rect x="172.18" y="198.40" width="8.60" height="7.40" fill="#d5d5d5"/>
<rect x="181.94" y="198.40" width="8.60" height="7.40" fill="#d5d5d5"/>
<rect x="191.70" y="198.40" width="8.60" height="7.40" fill="#d5d5d5"/>
<rect x="201.46" y="198.40" width="8.60" height="7.40" fill="#d5d5d5"/>
<rect x="211.22" y="198.40" width="8.60" height="7.40" fill="#d5d5d5"/>
<rect x="220.98" y="198.40" width="8.60" height="7.40" fill="#d5d5d5"/>
<rect x="230.74" y="198.40" width="8.60" height="7.40" fill="#d5d5d5"/>
<rect x="240.50" y="198.40" width="8.60" height="7.40" fill="#d5d5d5"/>
<rect x="250.26" y="198.40" width="8.60" height="7.40" fill="#d5d5d5"/>
<rect x="260.02" y="198.40" width="8.60" height="7.40" fill="#d5d5d5"/>
<rect x="269.78" y="198.40" width="8.60" height="7.40" fill="#d5d5d5"/>
<rect x="279.54" y="198.40" width="8.60" height="7.40" fill="#d5d5d5"/>
<rect x="289.30" y="198.40" width="8.60" height="7.40" fill="#d5d5d5"/>
<rect x="299.06" y="198.40" width="8.60" height="7.40" fill="#d5d5d5"/>
<rect x="308.82" y="198.40" width="8.60" height="7.40" fill="#d5d5d5"/>
<rect x="318.58" y="198.40" width="8.60" height="7.40" fill="#d5d5d5"/>
<rect x="328.34" y="198.40" width="8.60" height="7.40" fill="#d5d5d5"/>
<rect x="338.10" y="198.40" width="8.60" height="7.40" fill="#d5d5d5"/>
<rect x="347.86" y="198.40" width="8.60" height="7.40" fill="#d5d5d5"/>
<rect x="94.10" y="206.48" width="8.60" height="7.40" fill="#d5d5d5"/>
<rect x="103.86" y="206.48" width="8.60" height="7.40" fill="#d5d5d5"/>
<rect x="113.62" y="206.48" width="8.60" height="7.40" fill="#d5d5d5"/>
<rect x="123.38" y="206.48" width="8.60" height="7.40" fill="#d5d5d5"/>
<rect x="133.14" y="206.48" width="8.60" height="7.40" fill="#d5d5d5"/>
<rect x="142.90" y="206.48" width="8.60" height="7.40" fill="#d5d5d5"/>
<rect x="152.66" y="206.48" width="8.60" height="7.40" fill="#d5d5d5"/>
<rect x="162.42" y="206.48" width="8.60" height="7.40" fill="#d5d5d5"/>
<rect x="172.18" y="206.48" width="8.60" height="7.40" fill="#d5d5d5"/>
<rect x="181.94" y="206.48" width="8.60" height="7.40" fill="#d5d5d5"/>
<rect x="191.70" y="206.48" width="8.60" height="7.40" fill="#d5d5d5"/>
<rect x="201.46" y="206.48" width="8.60" height="7.40" fill="#d5d5d5"/>
<rect x="211.22" y="206.48" width="8.60" height="7.40" fill="#d5d5d5"/>
<rect x="220.98" y="206.48" width="8.60" height="7.40" fill="#d5d5d5"/>
<rect x="230.74" y="206.48" width="8.60" height="7.40" fill="#d5d5d5"/>
<rect x="240.50" y="206.48" width="8.60" height="7.40" fill="#d5d5d5"/>
<rect x="250.26" y="206.48" width="8.60" height="7.40" fill="#d5d5d5"/>
<rect x="260.02" y="206.48" width="8.60" height="7.40" fill="#d5d5d5"/>
<rect x="269.78" y="206.48" width="8.60" height="7.40" fill="#d5d5d5"/>
<rect x="279.54" y="206.48" width="8.60" height="7.40" fill="#d5d5d5"/>
<rect x="289.30" y="206.48" width="8.60" height="7.40" fill="#d5d5d5"/>
<rect x="299.06" y="206.48" width="8.60" height="7.40" fill="#d5d5d5"/>
<rect x="308.82" y="206.48" width="8.60" height="7.40" fill="#d5d5d5"/>
<rect x="318.58" y="206.48" width="8.60" height="7.40" fill="#d5d5d5"/>
<rect x="328.34" y="206.48" width="8.60" height="7.40" fill="#d5d5d5"/>
<rect x="338.10" y="206.48" width="8.60" height="7.40" fill="#d5d5d5"/>
<rect x="347.86" y="206.48" width="8.60" height="7.40" fill="#d5d5d5"/>
<rect x="94.10" y="214.56" width="8.60" height="7.40" fill="#d5d5d5"/>
<rect x="103.86" y="214.56" width="8.60" height="7.40" fill="#d5d5d5"/>
<rect x="113.62" y="214.56" width="8.60" height="7.40" fill="#d5d5d5"/>
<rect x="123.38" y="214.56" width="8.60" height="7.40" fill="#d5d5d5"/>
<rect x="133.14" y="214.56" width="8.60" height="7.40" fill="#d5d5d5"/>
<rect x="142.90" y="214.56" width="8.60" height="7.40" fill="#d5d5d5"/>
<rect x="152.66" y="214.56" width="8.60" height="7.40" fill="#d5d5d5"/>
<rect x="162.42" y="214.56" width="8.60" height="7.40" fill="#d5d5d5"/>
<rect x="172.18" y="214.56" width="8.60" height="7.40" fill="#d5d5d5"/>
<rect x="181.94" y="214.56" width="8.60" height="7.40" fill="#d5d5d5"/>
<rect x="191.70" y="214.56" width="8.60" height="7.40" fill="#d5d5d5"/>
<rect x="201.46" y="214.56" width="8.60" height="7.40" fill="#d5d5d5"/>
<rect x="211.22" y="214.56" width="8.60" height="7.40" fill="#d5d5d5"/>
<rect x="220.98" y="214.56" width="8.60" height="7.40" fill="#d5d5d5"/>
<rect x="230.74" y="214.56" width="8.60" height="7.40" fill="#d5d5d5"/>
<rect x="240.50" y="214.56" width="8.60" height="7.40" fill="#d5d5d5"/>
<rect x="250.26" y="214.56" width="8.60" height="7.40" fill="#d5d5d5"/>
<rect x="260.02" y="214.56" width="8.60" height="7.40" fill="#d5d5d5"/>
<rect x="269.78" y="214.56" width="8.60" height="7.40" fill="#d5d5d5"/>
<rect x="279.54" y="214.56" width="8.60" height="7.40" fill="#d5d5d5"/>
<rect x="289.30" y="214.56" width="8.60" height="7.40" fill="#d5d5d5"/>
<rect x="299.06" y="214.56" width="8.60" height="7.40" fill="#d5d5d5"/>
<rect x="308.82" y="214.56" width="8.60" height="7.40" fill="#d5d5d5"/>
<rect x="318.58" y="214.56" width="8.60" height="7.40" fill="#d5d5d5"/>
<rect x="328.34" y="214.56" width="8.60" height="7.40" fill="#d5d5d5"/>
<rect x="338.10" y="214.56" width="8.60" height="7.40" fill="#d5d5d5"/>
<rect x="347.86" y="214.56" width="8.60" height="7.40" fill="#d5d5d5"/>
<rect x="94.10" y="222.64" width="8.60" height="7.40" fill="#d5d5d5"/>
<rect x="103.86" y="222.64" width="8.60" height="7.40" fill="#d5d5d5"/>
<rect x="113.62" y="222.64" width="8.60" height="7.40" fill="#d5d5d5"/>
<rect x="123.38" y="222.64" width="8.60" height="7.40" fill="#d5d5d5"/>
<rect x="133.14" y="222.64" width="8.60" height="7.40" fill="#d5d5d5"/>
<rect x="142.90" y="222.64" width="8.60" height="7.40" fill="#d5d5d5"/>
<rect x="152.66" y="222.64" width="8.60" height="7.40" fill="#d5d5d5"/>
<rect x="162.42" y="222.64" width="8.60" height="7.40" fill="#d5d5d5"/>
<rect x="172.18" y="222.64" width="8.60" height="7.40" fill="#d5d5d5"/>
<rect x="181.94" y="222.64" width="8.60" height="7.40" fill="#d5d5d5"/>
<rect x="191.70" y="222.64" width="8.60" height="7.40" fill="#d5d5d5"/>
<rect x="201.46" y="222.64" width="8.60" height="7.40" fill="#d5d5d5"/>
<rect x="211.22" y="222.64" width="8.60" height="7.40" fill="#d5d5d5"/>
<rect x="220.98" y="222.64" width="8.60" height="7.40" fill="#d5d5d5"/>
<rect x="230.74" y="222.64" width="8.60" height="7.40" fill="#d5d5d5"/>
<rect x="240.50" y="222.64" width="8.60" height="7.40" fill="#d5d5d5"/>
<rect x="250.26" y="222.64" width="8.60" height="7.40" fill="#d5d5d5"/>
<rect x="260.02" y="222.64" width="8.60" height="7.40" fill="#d5d5d5"/>
<rect x="269.78" y="222.64" width="8.60" height="7.40" fill="#d5d5d5"/>
<rect x="279.54" y="222.64" width="8.60" height="7.40" fill="#d5d5d5"/>
<rect x="289.30" y="222.64" width="8.60" height="7.40" fill="#d5d5d5"/>
<rect x="299.06" y="222.64" width="8.60" height="7.40" fill="#d5d5d5"/>
<rect x="308.82" y="222.64" width="8.60" height="7.40" fill="#d5d5d5"/>
<rect x="318.58" y="222.64" width="8.60" height="7.40" fill="#d5d5d5"/>
<rect x="328.34" y="222.64" width="8.60" height="7.40" fill="#d5d5d5"/>
<rect x="338.10" y="222.64" width="8.60" height="7.40" fill="#d5d5d5"/>
<rect x="347.86" y="222.64" width="8.60" height="7.40" fill="#d5d5d5"/>
<rect x="94.10" y="230.72" width="8.60" height="7.40" fill="#d5d5d5"/>
<rect x="103.86" y="230.72" width="8.60" height="7.40" fill="#d5d5d5"/>
<rect x="113.62" y="230.72" width="8.60" height="7.40" fill="#d5d5d5"/>
<rect x="123.38" y="230.72" width="8.60" height="7.40" fill="#d5d5d5"/>
<rect x="133.14" y="230.72" width="8.60" height="7.40" fill="#d5d5d5"/>
<rect x="142.90" y="230.72" width="8.60" height="7.40" fill="#d5d5d5"/>
<rect x="152.66" y="230.72" width="8.60" height="7.40" fill="#d5d5d5"/>
<rect x="162.42" y="230.72" width="8.60" height="7.40" fill="#d5d5d5"/>
<rect x="172.18" y="230.72" width="8.60" height="7.40" fill="#d5d5d5"/>
<rect x="181.94" y="230.72" width="8.60" height="7.40" fill="#d5d5d5"/>
<rect x="191.70" y="230.72" width="8.60" height="7.40" fill="#d5d5d5"/>
<rect x="201.46" y="230.72" width="8.60" height="7.40" fill="#d5d5d5"/>
<rect x="211.22" y="230.72" width="8.60" height="7.40" fill="#d5d5d5"/>
<rect x="220.98" y="230.72" width="8.60" height="7.40" fill="#d5d5d5"/>
<rect x="230.74" y="230.72" width="8.60" height="7.40" fill="#d5d5d5"/>
<rect x="240.50" y="230.72" width="8.60" height="7.40" fill="#d5d5d5"/>
<rect x="250.26" y="230.72" width="8.60" height="7.40" fill="#d5d5d5"/>
<rect x="260.02" y="230.72" width="8.60" height="7.40" fill="#d5d5d5"/>
<rect x="269.78" y="230.72" width="8.60" height="7.40" fill="#d5d5d5"/>
<rect x="279.54" y="230.72" width="8.60" height="7.40" fill="#d5d5d5"/>
<rect x="289.30" y="230.72" width="8.60" height="7.40" fill="#d5d5d5"/>
<rect x="299.06" y="230.72" width="8.60" height="7.40" fill="#d5d5d5"/>
<rect x="308.82" y="230.72" width="8.60" height="7.40" fill="#d5d5d5"/>
<rect x="318.58" y="230.72" width="8.60" height="7.40" fill="#d5d5d5"/>
<rect x="328.34" y="230.72" width="8.60" height="7.40" fill="#d5d5d5"/>
<rect x="338.10" y="230.72" width="8.60" height="7.40" fill="#d5d5d5"/>
<rect x="347.86" y="230.72" width="8.60" height="7.40" fill="#d5d5d5"/>
<rect x="94.10" y="238.80" width="8.60" height="7.40" fill="#d5d5d5"/>
<rect x="103.86" y="238.80" width="8.60" height="7.40" fill="#d5d5d5"/>
<rect x="113.62" y="238.80" width="8.60" height="7.40" fill="#d5d5d5"/>
<rect x="123.38" y="238.80" width="8.60" height="7.40" fill="#d5d5d5"/>
<rect x="133.14" y="238.80" width="8.60" height="7.40" fill="#d5d5d5"/>
<rect x="142.90" y="238.80" width="8.60" height="7.40" fill="#d5d5d5"/>
<rect x="152.66" y="238.80" width="8.60" height="7.40" fill="#d5d5d5"/>
<rect x="162.42" y="238.80" width="8.60" height="7.40" fill="#d5d5d5"/>
<rect x="172.18" y="238.80" width="8.60" height="7.40" fill="#d5d5d5"/>
<rect x="181.94" y="238.80" width="8.60" height="7.40" fill="#d5d5d5"/>
<rect x="191.70" y="238.80" width="8.60" height="7.40" fill="#d5d5d5"/>
<rect x="201.46" y="238.80" width="8.60" height="7.40" fill="#d5d5d5"/>
<rect x="211.22" y="238.80" width="8.60" height="7.40" fill="#d5d5d5"/>
<rect x="220.98" y="238.80" width="8.60" height="7.40" fill="#d5d5d5"/>
<rect x="230.74" y="238.80" width="8.60" height="7.40" fill="#d5d5d5"/>
<rect x="240.50" y="238.80" width="8.60" height="7.40" fill="#d5d5d5"/>
<rect x="250.26" y="238.80" width="8.60" height="7.40" fill="#d5d5d5"/>
<rect x="260.02" y="238.80" width="8.60" height="7.40" fill="#d5d5d5"/>
<rect x="269.78" y="238.80" width="8.60" height="7.40" fill="#d5d5d5"/>
<rect x="279.54" y="238.80" width="8.60" height="7.40" fill="#d5d5d5"/>
<rect x="289.30" y="238.80" width="8.60" height="7.40" fill="#d5d5d5"/>
<rect x="299.06" y="238.80" width="8.60" height="7.40" fill="#d5d5d5"/>
<rect x="308.82" y="238.80" width="8.60" height="7.40" fill="#d5d5d5"/>
<rect x="318.58" y="238.80" width="8.60" height="7.40" fill="#d5d5d5"/>
<rect x="328.34" y="238.80" width="8.60" height="7.40" fill="#d5d5d5"/>
<rect x="338.10" y="238.80" width="8.60" height="7.40" fill="#d5d5d5"/>
<rect x="347.86" y="238.80" width="8.60" height="7.40" fill="#d5d5d5"/>
<rect x="94.10" y="246.88" width="8.60" height="7.40" fill="#d5d5d5"/>
<rect x="103.86" y="246.88" width="8.60" height="7.40" fill="#d5d5d5"/>
<rect x="113.62" y="246.88" width="8.60" height="7.40" fill="#d5d5d5"/>
<rect x="123.38" y="246.88" width="8.60" height="7.40" fill="#d5d5d5"/>
<rect x="133.14" y="246.88" width="8.60" height="7.40" fill="#d5d5d5"/>
<rect x="142.90" y="246.88" width="8.60" height="7.40" fill="#d5d5d5"/>
<rect x="152.66" y="246.88" width="8.60" height="7.40" fill="#d5d5d5"/>
<rect x="162.42" y="246.88" width="8.60" height="7.40" fill="#d5d5d5"/>
<rect x="172.18" y="246.88" width="8.60" height="7.40" fill="#d5d5d5"/>
<rect x="181.94" y="246.88" width="8.60" height="7.40" fill="#d5d5d5"/>
<rect x="191.70" y="246.88" width="8.60" height="7.40" fill="#d5d5d5"/>
<rect x="201.46" y="246.88" width="8.60" height="7.40" fill="#d5d5d5"/>
<rect x="211.22" y="246.88" width="8.60" height="7.40" fill="#d5d5d5"/>
<rect x="220.98" y="246.88" width="8.60" height="7.40" fill="#d5d5d5"/>
<rect x="230.74" y="246.88" width="8.60" height="7.40" fill="#d5d5d5"/>
<rect x="240.50" y="246.88" width="8.60" height="7.40" fill="#d5d5d5"/>
<rect x="250.26" y="246.88" width="8.60" height="7.40" fill="#d5d5d5"/>
<rect x="260.02" y="246.88" width="8.60" height="7.40" fill="#d5d5d5"/>
<rect x="269.78" y="246.88" width="8.60" height="7.40" fill="#d5d5d5"/>
<rect x="279.54" y="246.88" width="8.60" height="7.40" fill="#d5d5d5"/>
<rect x="289.30" y="246.88" width="8.60" height="7.40" fill="#d5d5d5"/>
<rect x="299.06" y="246.88" width="8.60" height="7.40" fill="#d5d5d5"/>
<rect x="308.82" y="246.88" width="8.60" height="7.40" fill="#d5d5d5"/>
<rect x="318.58" y="246.88" width="8.60" height="7.40" fill="#d5d5d5"/>
<rect x="328.34" y="246.88" width="8.60" height="7.40" fill="#d5d5d5"/>
<rect x="338.10" y="246.88" width="8.60" height="7.40" fill="#d5d5d5"/>
<rect x="347.86" y="246.88" width="8.60" height="7.40" fill="#d5d5d5"/>
<rect x="94.10" y="254.96" width="8.60" height="7.40" fill="#d5d5d5"/>
<rect x="103.86" y="254.96" width="8.60" height="7.40" fill="#d5d5d5"/>
<rect x="113.62" y="254.96" width="8.60" height="7.40" fill="#d5d5d5"/>
<rect x="123.38" y="254.96" width="8.60" height="7.40" fill="#d5d5d5"/>
<rect x="133.14" y="254.96" width="8.60" height="7.40" fill="#d5d5d5"/>
<rect x="142.90" y="254.96" width="8.60" height="7.40" fill="#d5d5d5"/>
<rect x="152.66" y="254.96" width="8.60" height="7.40" fill="#d5d5d5"/>
<rect x="162.42" y="254.96" width="8.60" height="7.40" fill="#d5d5d5"/>
<rect x="172.18" y="254.96" width="8.60" height="7.40" fill="#d5d5d5"/>
<rect x="181.94" y="254.96" width="8.60" height="7.40" fill="#d5d5d5"/>
<rect x="191.70" y="254.96" width="8.60" height="7.40" fill="#d5d5d5"/>
<rect x="201.46" y="254.96" width="8.60" height="7.40" fill="#d5d5d5"/>
<rect x="211.22" y="254.96" width="8.60" height="7.40" fill="#d5d5d5"/>
<rect x="220.98" y="254.96" width="8.60" height="7.40" fill="#d5d5d5"/>
<rect x="230.74" y="254.96" width="8.60" height="7.40" fill="#d5d5d5"/>
<rect x="240.50" y="254.96" width="8.60" height="7.40" fill="#d5d5d5"/>
<rect x="250.26" y="254.96" width="8.60" height="7.40" fill="#d5d5d5"/>
<rect x="260.02" y="254.96" width="8.60" height="7.40" fill="#d5d5d5"/>
<rect x="269.78" y="254.96" width="8.60" height="7.40" fill="#d5d5d5"/>
<rect x="279.54" y="254.96" width="8.60" height="7.40" fill="#d5d5d5"/>
<rect x="289.30" y="254.96" width="8.60" height="7.40" fill="#d5d5d5"/>
<rect x="299.06" y="254.96" width="8.60" height="7.40" fill="#d5d5d5"/>
<rect x="308.82" y="254.96" width="8.60" height="7.40" fill="#d5d5d5"/>
<rect x="318.58" y="254.96" width="8.60" height="7.40" fill="#d5d5d5"/>
<rect x="328.34" y="254.96" width="8.60" height="7.40" fill="#d5d5d5"/>
<rect x="338.10" y="254.96" width="8.60" height="7.40" fill="#d5d5d5"/>
<rect x="347.86" y="254.96" width="8.60" height="7.40" fill="#d5d5d5"/>
<rect x="94.10" y="263.04" width="8.60" height="7.40" fill="#d5d5d5"/>
<rect x="103.86" y="263.04" width="8.60" height="7.40" fill="#d5d5d5"/>
<rect x="113.62" y="263.04" width="8.60" height="7.40" fill="#d5d5d5"/>
<rect x="123.38" y="263.04" width="8.60" height="7.40" fill="#d5d5d5"/>
<rect x="133.14" y="263.04" width="8.60" height="7.40" fill="#d5d5d5"/>
<rect x="142.90" y="263.04" width="8.60" height="7.40" fill="#d5d5d5"/>
<rect x="152.66" y="263.04" width="8.60" height="7.40" fill="#d5d5d5"/>
<rect x="162.42" y="263.04" width="8.60" height="7.40" fill="#d5d5d5"/>
<rect x="172.18" y="263.04" width="8.60" height="7.40" fill="#d5d5d5"/>
<rect x="181.94" y="263.04" width="8.60" height="7.40" fill="#d5d5d5"/>
<rect x="191.70" y="263.04" width="8.60" height="7.40" fill="#d5d5d5"/>
<rect x="201.46" y="263.04" width="8.60" height="7.40" fill="#d5d5d5"/>
<rect x="211.22" y="263.04" width="8.60" height="7.40" fill="#d5d5d5"/>
<rect x="220.98" y="263.04" width="8.60" height="7.40" fill="#d5d5d5"/>
<rect x="230.74" y="263.04" width="8.60" height="7.40" fill="#d5d5d5"/>
<rect x="240.50" y="263.04" width="8.60" height="7.40" fill="#d5d5d5"/>
<rect x="250.26" y="263.04" width="8.60" height="7.40" fill="#d5d5d5"/>
<rect x="260.02" y="263.04" width="8.60" height="7.40" fill="#d5d5d5"/>
<rect x="269.78" y="263.04" width="8.60" height="7.40" fill="#d5d5d5"/>
<rect x="279.54" y="263.04" width="8.60" height="7.40" fill="#d5d5d5"/>
<rect x="289.30" y="263.04" width="8.60" height="7.40" fill="#d5d5d5"/>
<rect x="299.06" y="263.04" width="8.60" height="7.40" fill="#d5d5d5"/>
<rect x="308.82" y="263.04" width="8.60" height="7.40" fill="#d5d5d5"/>
<rect x="318.58" y="263.04" width="8.60" height="7.40" fill="#d5d5d5"/>
<rect x="328.34" y="263.04" width="8.60" height="7.40" fill="#d5d5d5"/>
<rect x="338.10" y="263.04" width="8.60" height="7.40" fill="#d5d5d5"/>
<rect x="347.86" y="263.04" width="8.60" height="7.40" fill="#d5d5d5"/>
<rect x="94.10" y="271.12" width="8.60" height="7.40" fill="#d5d5d5"/>
<rect x="103.86" y="271.12" width="8.60" height="7.40" fill="#d5d5d5"/>
<rect x="113.62" y="271.12" width="8.60" height="7.40" fill="#d5d5d5"/>
<rect x="123.38" y="271.12" width="8.60" height="7.40" fill="#d5d5d5"/>
<rect x="133.14" y="271.12" width="8.60" height="7.40" fill="#d5d5d5"/>
<rect x="142.90" y="271.12" width="8.60" height="7.40" fill="#d5d5d5"/>
<rect x="152.66" y="271.12" width="8.60" height="7.40" fill="#d5d5d5"/>
<rect x="162.42" y="271.12" width="8.60" height="7.40" fill="#d5d5d5"/>
<rect x="172.18" y="271.12" width="8.60" height="7.40" fill="#d5d5d5"/>
<rect x="181.94" y="271.12" width="8.60" height="7.40" fill="#d5d5d5"/>
<rect x="191.70" y="271.12" width="8.60" height="7.40" fill="#d5d5d5"/>
<rect x="201.46" y="271.12" width="8.60" height="7.40" fill="#d5d5d5"/>
<rect x="211.22" y="271.12" width="8.60" height="7.40" fill="#d5d5d5"/>
<rect x="220.98" y="271.12" width="8.60" height="7.40" fill="#d5d5d5"/>
<rect x="230.74" y="271.12" width="8.60" height="7.40" fill="#d5d5d5"/>
<rect x="240.50" y="271.12" width="8.60" height="7.40" fill="#d5d5d5"/>
<rect x="250.26" y="271.12" width="8.60" height="7.40" fill="#d5d5d5"/>
<rect x="260.02" y="271.12" width="8.60" height="7.40" fill="#d5d5d5"/>
<rect x="269.78" y="271.12" width="8.60" height="7.40" fill="#d5d5d5"/>
<rect x="279.54" y="271.12" width="8.60" height="7.40" fill="#d5d5d5"/>
<rect x="289.30" y="271.12" width="8.60" height="7.40" fill="#d5d5d5"/>
<rect x="299.06" y="271.12" width="8.60" height="7.40" fill="#d5d5d5"/>
<rect x="308.82" y="271.12" width="8.60" height="7.40" fill="#d5d5d5"/>
<rect x="318.58" y="271.12" width="8.60" height="7.40" fill="#d5d5d5"/>
<rect x="328.34" y="271.12" width="8.60" height="7.40" fill="#d5d5d5"/>
<rect x="338.10" y="271.12" width="8.60" height="7.40" fill="#d5d5d5"/>
<rect x="347.86" y="271.12" width="8.60" height="7.40" fill="#d5d5d5"/>
<rect x="123.38" y="77.20" width="8.60" height="7.40" fill="#17a553"/>
<rect x="133.14" y="77.20" width="8.60" height="7.40" fill="#2a2a2a"/>
<rect x="152.66" y="77.20" width="8.60" height="7.40" fill="#17a553"/>
<rect x="201.46" y="77.20" width="8.60" height="7.40" fill="#1d86c5"/>
<rect x="211.22" y="77.20" width="8.60" height="7.40" fill="#17a553"/>
<rect x="220.98" y="77.20" width="8.60" height="7.40" fill="#17a553"/>
<rect x="113.62" y="85.28" width="8.60" height="7.40" fill="#17a553"/>
<rect x="142.90" y="85.28" width="8.60" height="7.40" fill="#7b58a6"/>
<rect x="162.42" y="85.28" width="8.60" height="7.40" fill="#e8392f"/>
<rect x="94.10" y="93.36" width="8.60" height="7.40" fill="#7b58a6"/>
<rect x="103.86" y="93.36" width="8.60" height="7.40" fill="#e8392f"/>
<rect x="94.10" y="101.44" width="8.60" height="7.40" fill="#17a553"/>
<rect x="123.38" y="101.44" width="8.60" height="7.40" fill="#17a553"/>
<rect x="113.62" y="117.60" width="8.60" height="7.40" fill="#1d86c5"/>
<rect x="113.62" y="125.68" width="8.60" height="7.40" fill="#f39128"/>
<rect x="94.10" y="133.76" width="8.60" height="7.40" fill="#2a2a2a"/>
<rect x="152.66" y="141.84" width="8.60" height="7.40" fill="#17a553"/>
<rect x="103.86" y="78.80" width="8.60" height="4.20" fill="#f8ea86"/>
<rect x="142.90" y="78.80" width="8.60" height="4.20" fill="#f8ea86"/>
<rect x="162.42" y="78.80" width="8.60" height="4.20" fill="#f8ea86"/>
<rect x="113.62" y="111.12" width="18.36" height="4.20" fill="#a8d3ec"/>
<rect x="162.42" y="151.52" width="8.60" height="4.20" fill="#f8ea86"/>
<rect x="103.86" y="159.60" width="8.60" height="4.20" fill="#cb4fa0"/>
<rect x="123.38" y="159.60" width="8.60" height="4.20" fill="#cb4fa0"/>
<rect x="142.90" y="159.60" width="18.36" height="4.20" fill="#cb4fa0"/>
<rect x="123.38" y="167.68" width="28.12" height="4.20" fill="#cb4fa0"/>
<rect x="123.38" y="175.76" width="18.36" height="4.20" fill="#cb4fa0"/>
<rect x="152.66" y="175.76" width="8.60" height="4.20" fill="#cb4fa0"/>
<rect x="113.62" y="183.84" width="8.60" height="4.20" fill="#f8ea86"/>
<rect x="133.14" y="183.84" width="8.60" height="4.20" fill="#f8ea86"/>
<rect x="142.90" y="191.92" width="8.60" height="4.20" fill="#f8ea86"/>
<rect x="162.42" y="191.92" width="8.60" height="4.20" fill="#f8ea86"/>
<rect x="142.90" y="200.00" width="8.60" height="4.20" fill="#cb4fa0"/>
<rect x="142.90" y="208.08" width="8.60" height="4.20" fill="#cb4fa0"/>
<rect x="162.42" y="216.16" width="8.60" height="4.20" fill="#f8ea86"/>
<rect x="152.66" y="224.24" width="8.60" height="4.20" fill="#cb4fa0"/>
<rect x="133.14" y="232.32" width="8.60" height="4.20" fill="#cb4fa0"/>
<rect x="123.38" y="240.40" width="8.60" height="4.20" fill="#f8ea86"/>
<rect x="123.38" y="248.48" width="8.60" height="4.20" fill="#f8ea86"/>
<rect x="152.66" y="256.56" width="8.60" height="4.20" fill="#cb4fa0"/>
<rect x="152.66" y="264.64" width="8.60" height="4.20" fill="#cb4fa0"/>
<rect x="133.14" y="272.72" width="8.60" height="4.20" fill="#f8ea86"/>
<text x="91.20" y="83.94" font-size="6.6" text-anchor="end" fill="#3a3a3a" font-style="italic">DDX3X</text>
<text x="91.20" y="92.02" font-size="6.6" text-anchor="end" fill="#3a3a3a" font-style="italic">NFKB1</text>
<text x="91.20" y="100.10" font-size="6.6" text-anchor="end" fill="#3a3a3a" font-style="italic">ARID1A</text>
<text x="91.20" y="108.18" font-size="6.6" text-anchor="end" fill="#3a3a3a" font-style="italic">KMT2B</text>
<text x="91.20" y="116.26" font-size="6.6" text-anchor="end" fill="#3a3a3a" font-style="italic">CD274</text>
<text x="91.20" y="124.34" font-size="6.6" text-anchor="end" fill="#3a3a3a" font-style="italic">KMT2D</text>
<text x="91.20" y="132.42" font-size="6.6" text-anchor="end" fill="#3a3a3a" font-style="italic">KDM6A</text>
<text x="91.20" y="140.50" font-size="6.6" text-anchor="end" fill="#3a3a3a" font-style="italic">TET2</text>
<text x="91.20" y="148.58" font-size="6.6" text-anchor="end" fill="#3a3a3a" font-style="italic">ARID2</text>
<text x="91.20" y="156.66" font-size="6.6" text-anchor="end" fill="#3a3a3a" font-style="italic">TNFAIP3</text>
<text x="91.20" y="164.74" font-size="6.6" text-anchor="end" fill="#3a3a3a" font-style="italic">gain Xp</text>
<text x="91.20" y="172.82" font-size="6.6" text-anchor="end" fill="#3a3a3a" font-style="italic">gain Xq</text>
<text x="91.20" y="180.90" font-size="6.6" text-anchor="end" fill="#3a3a3a" font-style="italic">gain 3q</text>
<text x="91.20" y="188.98" font-size="6.6" text-anchor="end" fill="#3a3a3a" font-style="italic">loss 13q</text>
<text x="91.20" y="197.06" font-size="6.6" text-anchor="end" fill="#3a3a3a" font-style="italic">loss Xp</text>
<text x="91.20" y="205.14" font-size="6.6" text-anchor="end" fill="#3a3a3a" font-style="italic">gain 1q</text>
<text x="91.20" y="213.22" font-size="6.6" text-anchor="end" fill="#3a3a3a" font-style="italic">gain 6p</text>
<text x="91.20" y="221.30" font-size="6.6" text-anchor="end" fill="#3a3a3a" font-style="italic">loss 6q</text>
<text x="91.20" y="229.38" font-size="6.6" text-anchor="end" fill="#3a3a3a" font-style="italic">gain 8q</text>
<text x="91.20" y="237.46" font-size="6.6" text-anchor="end" fill="#3a3a3a" font-style="italic">gain 9q</text>
<text x="91.20" y="245.54" font-size="6.6" text-anchor="end" fill="#3a3a3a" font-style="italic">loss 9p</text>
<text x="91.20" y="253.62" font-size="6.6" text-anchor="end" fill="#3a3a3a" font-style="italic">loss 9q</text>
<text x="91.20" y="261.70" font-size="6.6" text-anchor="end" fill="#3a3a3a" font-style="italic">gain 10p</text>
<text x="91.20" y="269.78" font-size="6.6" text-anchor="end" fill="#3a3a3a" font-style="italic">gain 10q</text>
<text x="91.20" y="277.86" font-size="6.6" text-anchor="end" fill="#3a3a3a" font-style="italic">loss 12q</text>
<text x="374.20" y="83.74" font-size="6.6" text-anchor="end" fill="#3a3a3a">33%</text>
<rect x="377.20" y="78.00" width="31.24" height="6.40" fill="#17a553"/>
<rect x="408.44" y="78.00" width="7.81" height="6.40" fill="#1d86c5"/>
<rect x="416.25" y="78.00" width="23.43" height="6.40" fill="#f8ea86"/>
<rect x="439.68" y="78.00" width="7.81" height="6.40" fill="#2a2a2a"/>
<text x="374.20" y="91.82" font-size="6.6" text-anchor="end" fill="#3a3a3a">11%</text>
<rect x="377.20" y="86.08" width="7.81" height="6.40" fill="#17a553"/>
<rect x="385.01" y="86.08" width="7.81" height="6.40" fill="#e8392f"/>
<rect x="392.82" y="86.08" width="7.81" height="6.40" fill="#7b58a6"/>
<text x="374.20" y="99.90" font-size="6.6" text-anchor="end" fill="#3a3a3a">7%</text>
<rect x="377.20" y="94.16" width="7.81" height="6.40" fill="#17a553"/>
<rect x="385.01" y="94.16" width="7.81" height="6.40" fill="#7b58a6"/>
<text x="374.20" y="107.98" font-size="6.6" text-anchor="end" fill="#3a3a3a">7%</text>
<rect x="377.20" y="102.24" width="15.62" height="6.40" fill="#17a553"/>
<text x="374.20" y="116.06" font-size="6.6" text-anchor="end" fill="#3a3a3a">7%</text>
<rect x="377.20" y="110.32" width="15.62" height="6.40" fill="#a8d3ec"/>
<text x="374.20" y="124.14" font-size="6.6" text-anchor="end" fill="#3a3a3a">4%</text>
<rect x="377.20" y="118.40" width="7.81" height="6.40" fill="#1d86c5"/>
<text x="374.20" y="132.22" font-size="6.6" text-anchor="end" fill="#3a3a3a">4%</text>
<rect x="377.20" y="126.48" width="7.81" height="6.40" fill="#f39128"/>
<text x="374.20" y="140.30" font-size="6.6" text-anchor="end" fill="#3a3a3a">4%</text>
<rect x="377.20" y="134.56" width="7.81" height="6.40" fill="#2a2a2a"/>
<text x="374.20" y="148.38" font-size="6.6" text-anchor="end" fill="#3a3a3a">4%</text>
<rect x="377.20" y="142.64" width="7.81" height="6.40" fill="#17a553"/>
<text x="374.20" y="156.46" font-size="6.6" text-anchor="end" fill="#3a3a3a">4%</text>
<rect x="377.20" y="150.72" width="7.81" height="6.40" fill="#f8ea86"/>
<text x="374.20" y="164.54" font-size="6.6" text-anchor="end" fill="#3a3a3a">15%</text>
<rect x="377.20" y="158.80" width="31.24" height="6.40" fill="#cb4fa0"/>
<text x="374.20" y="172.62" font-size="6.6" text-anchor="end" fill="#3a3a3a">11%</text>
<rect x="377.20" y="166.88" width="23.43" height="6.40" fill="#cb4fa0"/>
<text x="374.20" y="180.70" font-size="6.6" text-anchor="end" fill="#3a3a3a">11%</text>
<rect x="377.20" y="174.96" width="23.43" height="6.40" fill="#cb4fa0"/>
<text x="374.20" y="188.78" font-size="6.6" text-anchor="end" fill="#3a3a3a">7%</text>
<rect x="377.20" y="183.04" width="15.62" height="6.40" fill="#f8ea86"/>
<text x="374.20" y="196.86" font-size="6.6" text-anchor="end" fill="#3a3a3a">7%</text>
<rect x="377.20" y="191.12" width="15.62" height="6.40" fill="#f8ea86"/>
<text x="374.20" y="204.94" font-size="6.6" text-anchor="end" fill="#3a3a3a">4%</text>
<rect x="377.20" y="199.20" width="7.81" height="6.40" fill="#cb4fa0"/>
<text x="374.20" y="213.02" font-size="6.6" text-anchor="end" fill="#3a3a3a">4%</text>
<rect x="377.20" y="207.28" width="7.81" height="6.40" fill="#cb4fa0"/>
<text x="374.20" y="221.10" font-size="6.6" text-anchor="end" fill="#3a3a3a">4%</text>
<rect x="377.20" y="215.36" width="7.81" height="6.40" fill="#f8ea86"/>
<text x="374.20" y="229.18" font-size="6.6" text-anchor="end" fill="#3a3a3a">4%</text>
<rect x="377.20" y="223.44" width="7.81" height="6.40" fill="#cb4fa0"/>
<text x="374.20" y="237.26" font-size="6.6" text-anchor="end" fill="#3a3a3a">4%</text>
<rect x="377.20" y="231.52" width="7.81" height="6.40" fill="#cb4fa0"/>
<text x="374.20" y="245.34" font-size="6.6" text-anchor="end" fill="#3a3a3a">4%</text>
<rect x="377.20" y="239.60" width="7.81" height="6.40" fill="#f8ea86"/>
<text x="374.20" y="253.42" font-size="6.6" text-anchor="end" fill="#3a3a3a">4%</text>
<rect x="377.20" y="247.68" width="7.81" height="6.40" fill="#f8ea86"/>
<text x="374.20" y="261.50" font-size="6.6" text-anchor="end" fill="#3a3a3a">4%</text>
<rect x="377.20" y="255.76" width="7.81" height="6.40" fill="#cb4fa0"/>
<text x="374.20" y="269.58" font-size="6.6" text-anchor="end" fill="#3a3a3a">4%</text>
<rect x="377.20" y="263.84" width="7.81" height="6.40" fill="#cb4fa0"/>
<text x="374.20" y="277.66" font-size="6.6" text-anchor="end" fill="#3a3a3a">4%</text>
<rect x="377.20" y="271.92" width="7.81" height="6.40" fill="#f8ea86"/>
<text x="383.00" y="58.16" font-size="8.4" textLength="58.80" lengthAdjust="spacingAndGlyphs">Number of samples</text>
<text x="377.10" y="68.51" font-size="6.8" text-anchor="middle">0</text>
<text x="447.40" y="68.51" font-size="6.8" text-anchor="middle">9</text>
<line x1="377.10" y1="75.20" x2="447.50" y2="75.20" stroke="#444" stroke-width="1"/>
<line x1="377.40" y1="73.20" x2="377.40" y2="75.60" stroke="#444" stroke-width="0.8"/>
<line x1="447.20" y1="73.20" x2="447.20" y2="75.60" stroke="#444" stroke-width="0.8"/>
<text x="341.30" y="17.81" font-size="6.8" textLength="48.70" lengthAdjust="spacingAndGlyphs">Mutations/CNAs</text>
<circle cx="299.40" cy="24.90" r="1.10" fill="#17a553"/>
<text x="306.60" y="27.14" font-size="6.6" textLength="54.70" lengthAdjust="spacingAndGlyphs">Missense mutation</text>
<circle cx="299.40" cy="30.60" r="1.10" fill="#e8392f"/>
<text x="306.60" y="32.84" font-size="6.6" textLength="56.20" lengthAdjust="spacingAndGlyphs">Nonsense mutation</text>
<circle cx="299.40" cy="36.50" r="1.10" fill="#7b58a6"/>
<text x="306.60" y="38.74" font-size="6.6" textLength="39.80" lengthAdjust="spacingAndGlyphs">Frameshift ins</text>
<circle cx="299.40" cy="42.30" r="1.10" fill="#1d86c5"/>
<text x="306.60" y="44.54" font-size="6.6" textLength="41.30" lengthAdjust="spacingAndGlyphs">Frameshift del</text>
<circle cx="299.40" cy="48.80" r="1.10" fill="#f39128"/>
<text x="306.60" y="51.04" font-size="6.6" textLength="29.20" lengthAdjust="spacingAndGlyphs">Splice site</text>
<circle cx="299.40" cy="55.70" r="1.10" fill="#2a2a2a"/>
<text x="306.60" y="57.94" font-size="6.6" textLength="23.70" lengthAdjust="spacingAndGlyphs">Multi hit</text>
<circle cx="369.5" cy="24.9" r="1.0" fill="none" stroke="#e9c56a" stroke-width="0.7"/>
<text x="373.00" y="27.14" font-size="6.6" textLength="79.50" lengthAdjust="spacingAndGlyphs">Heterozygous loss/deletion</text>
<circle cx="369.50" cy="30.60" r="1.00" fill="#cb4fa0"/>
<text x="373.00" y="32.84" font-size="6.6">Heterozygous gain</text>
<circle cx="369.50" cy="42.30" r="1.00" fill="#a8d3ec"/>
<text x="373.00" y="44.54" font-size="6.6" textLength="76.00" lengthAdjust="spacingAndGlyphs">3'UTR structural variations</text>
<rect x="94.10" y="282.00" width="262.36" height="5.00" fill="#1a8ac3"/>
<rect x="94.10" y="287.70" width="86.68" height="5.00" fill="#f5c51d"/>
<rect x="181.94" y="287.70" width="174.52" height="5.00" fill="#ee6e6c"/>
<rect x="94.10" y="293.50" width="47.64" height="5.00" fill="#2d2d2d"/>
<rect x="142.90" y="293.50" width="37.88" height="5.00" fill="#fbdcd2"/>
<rect x="181.94" y="293.50" width="18.36" height="5.00" fill="#2d2d2d"/>
<rect x="201.46" y="293.50" width="145.24" height="5.00" fill="#fbdcd2"/>
<rect x="347.86" y="293.50" width="8.60" height="5.00" fill="#cfcfcf"/>
<rect x="94.10" y="298.90" width="37.88" height="5.00" fill="#a65cb6"/>
<rect x="133.14" y="298.90" width="213.56" height="5.00" fill="#fbdcd2"/>
<rect x="347.86" y="298.90" width="8.60" height="5.00" fill="#cfcfcf"/>
<rect x="94.10" y="304.50" width="8.60" height="5.00" fill="#d9623c"/>
<rect x="103.86" y="304.50" width="8.60" height="5.00" fill="#fbdcd2"/>
<rect x="113.62" y="304.50" width="233.08" height="5.00" fill="#d9623c"/>
<rect x="347.86" y="304.50" width="8.60" height="5.00" fill="#cfcfcf"/>
<rect x="94.10" y="310.20" width="8.60" height="5.00" fill="#a6d7a2"/>
<rect x="103.86" y="310.20" width="18.36" height="5.00" fill="#f4a3ab"/>
<rect x="123.38" y="310.20" width="8.60" height="5.00" fill="#19a64f"/>
<rect x="133.14" y="310.20" width="18.36" height="5.00" fill="#a6d7a2"/>
<rect x="152.66" y="310.20" width="8.60" height="5.00" fill="#19a64f"/>
<rect x="162.42" y="310.20" width="28.12" height="5.00" fill="#a6d7a2"/>
<rect x="191.70" y="310.20" width="28.12" height="5.00" fill="#f4a3ab"/>
<rect x="220.98" y="310.20" width="8.60" height="5.00" fill="#19a64f"/>
<rect x="230.74" y="310.20" width="8.60" height="5.00" fill="#f4a3ab"/>
<rect x="240.50" y="310.20" width="67.16" height="5.00" fill="#a6d7a2"/>
<rect x="308.82" y="310.20" width="8.60" height="5.00" fill="#19a64f"/>
<rect x="318.58" y="310.20" width="37.88" height="5.00" fill="#f4a3ab"/>
<rect x="102.70" y="282.00" width="1.16" height="33.20" fill="#ffffff" opacity="0.25"/>
<rect x="112.46" y="282.00" width="1.16" height="33.20" fill="#ffffff" opacity="0.25"/>
<rect x="122.22" y="282.00" width="1.16" height="33.20" fill="#ffffff" opacity="0.25"/>
<rect x="131.98" y="282.00" width="1.16" height="33.20" fill="#ffffff" opacity="0.25"/>
<rect x="141.74" y="282.00" width="1.16" height="33.20" fill="#ffffff" opacity="0.25"/>
<rect x="151.50" y="282.00" width="1.16" height="33.20" fill="#ffffff" opacity="0.25"/>
<rect x="161.26" y="282.00" width="1.16" height="33.20" fill="#ffffff" opacity="0.25"/>
<rect x="171.02" y="282.00" width="1.16" height="33.20" fill="#ffffff" opacity="0.25"/>
<rect x="180.78" y="282.00" width="1.16" height="33.20" fill="#ffffff" opacity="0.25"/>
<rect x="190.54" y="282.00" width="1.16" height="33.20" fill="#ffffff" opacity="0.25"/>
<rect x="200.30" y="282.00" width="1.16" height="33.20" fill="#ffffff" opacity="0.25"/>
<rect x="210.06" y="282.00" width="1.16" height="33.20" fill="#ffffff" opacity="0.25"/>
<rect x="219.82" y="282.00" width="1.16" height="33.20" fill="#ffffff" opacity="0.25"/>
<rect x="229.58" y="282.00" width="1.16" height="33.20" fill="#ffffff" opacity="0.25"/>
<rect x="239.34" y="282.00" width="1.16" height="33.20" fill="#ffffff" opacity="0.25"/>
<rect x="249.10" y="282.00" width="1.16" height="33.20" fill="#ffffff" opacity="0.25"/>
<rect x="258.86" y="282.00" width="1.16" height="33.20" fill="#ffffff" opacity="0.25"/>
<rect x="268.62" y="282.00" width="1.16" height="33.20" fill="#ffffff" opacity="0.25"/>
<rect x="278.38" y="282.00" width="1.16" height="33.20" fill="#ffffff" opacity="0.25"/>
<rect x="288.14" y="282.00" width="1.16" height="33.20" fill="#ffffff" opacity="0.25"/>
<rect x="297.90" y="282.00" width="1.16" height="33.20" fill="#ffffff" opacity="0.25"/>
<rect x="307.66" y="282.00" width="1.16" height="33.20" fill="#ffffff" opacity="0.25"/>
<rect x="317.42" y="282.00" width="1.16" height="33.20" fill="#ffffff" opacity="0.25"/>
<rect x="327.18" y="282.00" width="1.16" height="33.20" fill="#ffffff" opacity="0.25"/>
<rect x="336.94" y="282.00" width="1.16" height="33.20" fill="#ffffff" opacity="0.25"/>
<rect x="346.70" y="282.00" width="1.16" height="33.20" fill="#ffffff" opacity="0.25"/>
<text x="361.70" y="286.54" font-size="6.6">EBV-infected cell type</text>
<text x="361.70" y="292.04" font-size="6.6">Methylation status</text>
<text x="361.70" y="298.04" font-size="6.6">Outcome</text>
<text x="361.70" y="303.84" font-size="6.6">Death due to PD/Relapse</text>
<text x="361.70" y="310.14" font-size="6.6">Transplantation</text>
<text x="361.70" y="316.04" font-size="6.6">Platform</text>
<text x="62.50" y="325.24" font-size="6.6" fill="#111" font-weight="bold" textLength="67.00" lengthAdjust="spacingAndGlyphs">EBV-infected cell type</text>
<text x="138.20" y="325.24" font-size="6.6" fill="#111" font-weight="bold" textLength="57.30" lengthAdjust="spacingAndGlyphs">Methylation status</text>
<text x="204.20" y="325.24" font-size="6.6" fill="#111" font-weight="bold" textLength="27.80" lengthAdjust="spacingAndGlyphs">Outcome</text>
<text x="240.60" y="325.24" font-size="6.6" fill="#111" font-weight="bold" textLength="78.20" lengthAdjust="spacingAndGlyphs">Death due to PD/Relapse</text>
<text x="327.50" y="325.24" font-size="6.6" fill="#111" font-weight="bold" textLength="47.00" lengthAdjust="spacingAndGlyphs">Transplantation</text>
<text x="389.20" y="325.24" font-size="6.6" fill="#111" font-weight="bold" textLength="26.50" lengthAdjust="spacingAndGlyphs">Platform</text>
<circle cx="80.80" cy="331.00" r="1.00" fill="#1a8ac3"/>
<text x="84.50" y="333.24" font-size="6.6">NK</text>
<circle cx="142.50" cy="331.00" r="1.00" fill="#f5c51d"/>
<text x="145.60" y="333.24" font-size="6.6" textLength="40.70" lengthAdjust="spacingAndGlyphs">CIMP-positive</text>
<circle cx="142.50" cy="337.00" r="1.00" fill="#ee6e6c"/>
<text x="145.60" y="339.24" font-size="6.6" textLength="42.50" lengthAdjust="spacingAndGlyphs">CIMP-negative</text>
<circle cx="209.20" cy="331.00" r="0.9" fill="none" stroke="#e0c8c0" stroke-width="0.6"/>
<text x="212.50" y="333.24" font-size="6.6">Alive</text>
<circle cx="209.20" cy="337.00" r="1.00" fill="#2d2d2d"/>
<text x="212.50" y="339.24" font-size="6.6">Dead</text>
<circle cx="262.00" cy="331.00" r="1.00" fill="#a65cb6"/>
<text x="265.50" y="333.24" font-size="6.6">Yes</text>
<circle cx="262.00" cy="337.00" r="1.00" fill="#fbdcd2"/>
<text x="265.50" y="339.24" font-size="6.6">No</text>
<circle cx="337.50" cy="331.00" r="1.00" fill="#d9623c"/>
<text x="341.00" y="333.24" font-size="6.6">Yes</text>
<circle cx="337.50" cy="337.00" r="1.00" fill="#fbdcd2"/>
<text x="341.00" y="339.24" font-size="6.6">No</text>
<circle cx="382.50" cy="329.70" r="1.00" fill="#19a64f"/>
<text x="386.30" y="331.94" font-size="6.6" textLength="49.60" lengthAdjust="spacingAndGlyphs">High depth WGS</text>
<circle cx="382.50" cy="336.20" r="1.00" fill="#a6d7a2"/>
<text x="386.30" y="338.44" font-size="6.6">WES+WGS</text>
<circle cx="382.50" cy="342.30" r="1.00" fill="#f4a3ab"/>
<text x="386.30" y="344.54" font-size="6.6">WES</text>
<text x="7.60" y="348.60" font-size="11" fill="#111" font-weight="bold" stroke="#111" stroke-width="0.45">B</text>
<line x1="75.00" y1="363.58" x2="81.25" y2="363.58" stroke="#a8a8a8" stroke-width="0.6"/>
<line x1="75.00" y1="375.56" x2="93.19" y2="375.56" stroke="#a8a8a8" stroke-width="0.6"/>
<line x1="75.00" y1="387.54" x2="105.13" y2="387.54" stroke="#a8a8a8" stroke-width="0.6"/>
<line x1="75.00" y1="399.52" x2="117.07" y2="399.52" stroke="#a8a8a8" stroke-width="0.6"/>
<line x1="75.00" y1="411.50" x2="129.01" y2="411.50" stroke="#a8a8a8" stroke-width="0.6"/>
<line x1="75.00" y1="423.48" x2="140.95" y2="423.48" stroke="#a8a8a8" stroke-width="0.6"/>
<line x1="75.00" y1="435.46" x2="152.89" y2="435.46" stroke="#a8a8a8" stroke-width="0.6"/>
<line x1="75.00" y1="447.44" x2="164.83" y2="447.44" stroke="#a8a8a8" stroke-width="0.6"/>
<line x1="75.00" y1="459.42" x2="176.77" y2="459.42" stroke="#a8a8a8" stroke-width="0.6"/>
<line x1="75.00" y1="471.40" x2="188.71" y2="471.40" stroke="#a8a8a8" stroke-width="0.6"/>
<line x1="81.25" y1="363.58" x2="81.25" y2="477.40" stroke="#a8a8a8" stroke-width="0.6"/>
<line x1="93.19" y1="375.56" x2="93.19" y2="477.40" stroke="#a8a8a8" stroke-width="0.6"/>
<line x1="105.13" y1="387.54" x2="105.13" y2="477.40" stroke="#a8a8a8" stroke-width="0.6"/>
<line x1="117.07" y1="399.52" x2="117.07" y2="477.40" stroke="#a8a8a8" stroke-width="0.6"/>
<line x1="129.01" y1="411.50" x2="129.01" y2="477.40" stroke="#a8a8a8" stroke-width="0.6"/>
<line x1="140.95" y1="423.48" x2="140.95" y2="477.40" stroke="#a8a8a8" stroke-width="0.6"/>
<line x1="152.89" y1="435.46" x2="152.89" y2="477.40" stroke="#a8a8a8" stroke-width="0.6"/>
<line x1="164.83" y1="447.44" x2="164.83" y2="477.40" stroke="#a8a8a8" stroke-width="0.6"/>
<line x1="176.77" y1="459.42" x2="176.77" y2="477.40" stroke="#a8a8a8" stroke-width="0.6"/>
<line x1="188.71" y1="471.40" x2="188.71" y2="477.40" stroke="#a8a8a8" stroke-width="0.6"/>
<line x1="75.40" y1="349.00" x2="75.40" y2="477.90" stroke="#222" stroke-width="1.0"/>
<line x1="74.50" y1="477.40" x2="204.50" y2="477.40" stroke="#222" stroke-width="1.1"/>
<line x1="71.30" y1="351.60" x2="75.00" y2="351.60" stroke="#222" stroke-width="1"/>
<line x1="71.30" y1="363.58" x2="75.00" y2="363.58" stroke="#222" stroke-width="1"/>
<line x1="71.30" y1="375.56" x2="75.00" y2="375.56" stroke="#222" stroke-width="1"/>
<line x1="71.30" y1="387.54" x2="75.00" y2="387.54" stroke="#222" stroke-width="1"/>
<line x1="71.30" y1="399.52" x2="75.00" y2="399.52" stroke="#222" stroke-width="1"/>
<line x1="71.30" y1="411.50" x2="75.00" y2="411.50" stroke="#222" stroke-width="1"/>
<line x1="71.30" y1="423.48" x2="75.00" y2="423.48" stroke="#222" stroke-width="1"/>
<line x1="71.30" y1="435.46" x2="75.00" y2="435.46" stroke="#222" stroke-width="1"/>
<line x1="71.30" y1="447.44" x2="75.00" y2="447.44" stroke="#222" stroke-width="1"/>
<line x1="71.30" y1="459.42" x2="75.00" y2="459.42" stroke="#222" stroke-width="1"/>
<line x1="71.30" y1="471.40" x2="75.00" y2="471.40" stroke="#222" stroke-width="1"/>
<line x1="81.25" y1="477.40" x2="81.25" y2="480.40" stroke="#222" stroke-width="1"/>
<line x1="93.19" y1="477.40" x2="93.19" y2="480.40" stroke="#222" stroke-width="1"/>
<line x1="105.13" y1="477.40" x2="105.13" y2="480.40" stroke="#222" stroke-width="1"/>
<line x1="117.07" y1="477.40" x2="117.07" y2="480.40" stroke="#222" stroke-width="1"/>
<line x1="129.01" y1="477.40" x2="129.01" y2="480.40" stroke="#222" stroke-width="1"/>
<line x1="140.95" y1="477.40" x2="140.95" y2="480.40" stroke="#222" stroke-width="1"/>
<line x1="152.89" y1="477.40" x2="152.89" y2="480.40" stroke="#222" stroke-width="1"/>
<line x1="164.83" y1="477.40" x2="164.83" y2="480.40" stroke="#222" stroke-width="1"/>
<line x1="176.77" y1="477.40" x2="176.77" y2="480.40" stroke="#222" stroke-width="1"/>
<line x1="188.71" y1="477.40" x2="188.71" y2="480.40" stroke="#222" stroke-width="1"/>
<line x1="200.65" y1="477.40" x2="200.65" y2="480.40" stroke="#222" stroke-width="1"/>
<text x="68.60" y="354.34" font-size="6.6" text-anchor="end" fill="#3a3a3a" font-style="italic">DDX3X</text>
<text x="68.60" y="366.32" font-size="6.6" text-anchor="end" fill="#3a3a3a">ARID1A</text>
<text x="68.60" y="378.30" font-size="6.6" text-anchor="end" fill="#3a3a3a" font-style="italic">KMT2D</text>
<text x="68.60" y="390.28" font-size="6.6" text-anchor="end" fill="#3a3a3a">NFKB1</text>
<text x="68.6" y="402.32" font-size="6.6" text-anchor="end" fill="#3a3a3a" textLength="49" lengthAdjust="spacingAndGlyphs">CD274 3'UTR SV</text>
<text x="68.60" y="414.24" font-size="6.6" text-anchor="end" fill="#3a3a3a">gain Xp</text>
<text x="68.60" y="426.22" font-size="6.6" text-anchor="end" fill="#3a3a3a">gain Xq</text>
<text x="68.60" y="438.20" font-size="6.6" text-anchor="end" fill="#3a3a3a">loss Xp</text>
<text x="68.60" y="450.18" font-size="6.6" text-anchor="end" fill="#3a3a3a">gain 3q</text>
<text x="68.60" y="462.16" font-size="6.6" text-anchor="end" fill="#3a3a3a">loss 6q</text>
<text x="68.60" y="474.14" font-size="6.6" text-anchor="end" fill="#cf4868">Death due to PD</text>
<text transform="translate(83.55,483.5) rotate(-90)" font-size="6.6" text-anchor="end" fill="#3a3a3a" font-style="italic">DDX3X</text>
<text transform="translate(95.49,483.5) rotate(-90)" font-size="6.6" text-anchor="end" fill="#cf4868">ARID1A</text>
<text transform="translate(107.43,483.5) rotate(-90)" font-size="6.6" text-anchor="end" fill="#cf4868" font-style="italic">KMT2D</text>
<text transform="translate(119.37,483.5) rotate(-90)" font-size="6.6" text-anchor="end" fill="#3a3a3a">NFKB1</text>
<text transform="translate(131.31,483.5) rotate(-90)" font-size="6.6" text-anchor="end" fill="#cf4868" textLength="49" lengthAdjust="spacingAndGlyphs">CD274 3'UTR SV</text>
<text transform="translate(143.25,483.5) rotate(-90)" font-size="6.6" text-anchor="end" fill="#3a3a3a">gain Xp</text>
<text transform="translate(155.19,483.5) rotate(-90)" font-size="6.6" text-anchor="end" fill="#3a3a3a">gain Xq</text>
<text transform="translate(167.13,483.5) rotate(-90)" font-size="6.6" text-anchor="end" fill="#3a3a3a">loss Xp</text>
<text transform="translate(179.07,483.5) rotate(-90)" font-size="6.6" text-anchor="end" fill="#3a3a3a">gain 3q</text>
<text transform="translate(191.01,483.5) rotate(-90)" font-size="6.6" text-anchor="end" fill="#3a3a3a">loss 6q</text>
<text transform="translate(202.95,483.5) rotate(-90)" font-size="6.6" text-anchor="end" fill="#3a3a3a">Death due to PD</text>
<circle cx="105.13" cy="399.52" r="1.75" fill="#8e1a3e"/>
<circle cx="81.25" cy="411.50" r="1.75" fill="#8e1a3e"/>
<circle cx="81.25" cy="423.48" r="1.75" fill="#8e1a3e"/>
<circle cx="81.25" cy="435.46" r="1.75" fill="#8e1a3e"/>
<circle cx="117.07" cy="435.46" r="1.75" fill="#8e1a3e"/>
<circle cx="81.25" cy="447.44" r="1.75" fill="#8e1a3e"/>
<circle cx="152.89" cy="447.44" r="1.75" fill="#8e1a3e"/>
<circle cx="164.83" cy="459.42" r="1.75" fill="#8e1a3e"/>
<circle cx="93.19" cy="471.40" r="1.75" fill="#8e1a3e"/>
<circle cx="105.13" cy="471.40" r="1.75" fill="#8e1a3e"/>
<circle cx="129.01" cy="471.40" r="1.75" fill="#8e1a3e"/>
<circle cx="160.80" cy="397.50" r="1.20" fill="#555"/>
<text x="170.00" y="399.74" font-size="6.6" textLength="20.50" lengthAdjust="spacingAndGlyphs">q &lt; .05</text>
<text x="150.20" y="351.09" font-size="8.2" textLength="31.60" lengthAdjust="spacingAndGlyphs">Odds ratio</text>
<defs><linearGradient id="orgrad" x1="0" x2="1" y1="0" y2="0"><stop offset="0" stop-color="#e8403a"/><stop offset="0.25" stop-color="#f29a92"/><stop offset="0.5" stop-color="#ffffff"/><stop offset="0.75" stop-color="#8fb0d8"/><stop offset="1" stop-color="#1f4f9c"/></linearGradient></defs>
<rect x="146.80" y="366.20" width="38.10" height="7.20" fill="url(#orgrad)"/>
<text x="142.8" y="361.5" font-size="6.8" fill="#333">10<tspan font-size="4.2" dy="-2.6">2</tspan></text>
<text x="179.6" y="361.5" font-size="6.8" fill="#333">10<tspan font-size="4.2" dy="-2.6">-2</tspan></text>
<text x="7.20" y="544.40" font-size="11.8" fill="#111" font-weight="bold" stroke="#111" stroke-width="0.45">C</text>
<line x1="48.50" y1="541.60" x2="48.50" y2="636.20" stroke="#222" stroke-width="1.0"/>
<line x1="48.50" y1="635.70" x2="197.50" y2="635.70" stroke="#222" stroke-width="1.1"/>
<line x1="45.00" y1="544.40" x2="48.50" y2="544.40" stroke="#222" stroke-width="1"/>
<text x="42.40" y="546.58" font-size="6.4" text-anchor="end">1.00</text>
<line x1="45.00" y1="566.23" x2="48.50" y2="566.23" stroke="#222" stroke-width="1"/>
<text x="42.40" y="568.40" font-size="6.4" text-anchor="end">0.75</text>
<line x1="45.00" y1="588.05" x2="48.50" y2="588.05" stroke="#222" stroke-width="1"/>
<text x="42.40" y="590.23" font-size="6.4" text-anchor="end">0.50</text>
<line x1="45.00" y1="609.88" x2="48.50" y2="609.88" stroke="#222" stroke-width="1"/>
<text x="42.40" y="612.05" font-size="6.4" text-anchor="end">0.25</text>
<line x1="45.00" y1="631.70" x2="48.50" y2="631.70" stroke="#222" stroke-width="1"/>
<text x="42.40" y="633.88" font-size="6.4" text-anchor="end">0.00</text>
<line x1="55.50" y1="635.70" x2="55.50" y2="639.30" stroke="#222" stroke-width="1"/>
<text x="55.50" y="647.54" font-size="6.6" text-anchor="middle">0</text>
<line x1="100.77" y1="635.70" x2="100.77" y2="639.30" stroke="#222" stroke-width="1"/>
<text x="100.77" y="647.54" font-size="6.6" text-anchor="middle">100</text>
<line x1="146.04" y1="635.70" x2="146.04" y2="639.30" stroke="#222" stroke-width="1"/>
<text x="146.04" y="647.54" font-size="6.6" text-anchor="middle">200</text>
<line x1="191.31" y1="635.70" x2="191.31" y2="639.30" stroke="#222" stroke-width="1"/>
<text x="191.31" y="647.54" font-size="6.6" text-anchor="middle">300</text>
<text transform="translate(24.6,588) rotate(-90)" font-size="8.2" text-anchor="middle" fill="#333" textLength="46.5" lengthAdjust="spacingAndGlyphs">Overall survival</text>
<text x="83.90" y="659.59" font-size="8.2" textLength="78.10" lengthAdjust="spacingAndGlyphs">Time from onset (months)</text>
<text x="48.80" y="670.58" font-size="6.4" textLength="43.20" lengthAdjust="spacingAndGlyphs">Number at risk</text>
<line x1="36.30" y1="679.00" x2="46.00" y2="679.00" stroke="#c2233f" stroke-width="1"/>
<line x1="36.30" y1="685.70" x2="46.00" y2="685.70" stroke="#5cb860" stroke-width="1"/>
<text x="55.20" y="681.24" font-size="6.6" text-anchor="middle">51</text>
<text x="55.20" y="687.94" font-size="6.6" text-anchor="middle">9</text>
<text x="100.80" y="681.24" font-size="6.6" text-anchor="middle">25</text>
<text x="100.80" y="687.94" font-size="6.6" text-anchor="middle">2</text>
<text x="146.00" y="681.24" font-size="6.6" text-anchor="middle">6</text>
<text x="146.00" y="687.94" font-size="6.6" text-anchor="middle">0</text>
<text x="191.30" y="681.24" font-size="6.6" text-anchor="middle">1</text>
<text x="191.30" y="687.94" font-size="6.6" text-anchor="middle">0</text>
<polyline points="56.30,544.40 65.40,544.40 65.40,551.50 66.60,551.50 66.60,563.30 70.30,563.30 70.30,582.10 76.20,582.10 76.20,592.10 78.30,592.10 78.30,602.30 108.80,602.30 108.80,616.70 110.80,616.70 110.80,631.70" fill="none" stroke="#5cb860" stroke-width="0.9"/>
<polyline points="56.30,544.40 65.40,544.40 65.40,548.00 66.40,548.00 66.40,550.60 71.20,550.60 71.20,552.00 78.60,552.00 78.60,553.20 80.60,553.20 80.60,554.00 81.60,554.00 81.60,556.20 85.80,556.20 85.80,557.00 86.20,557.00 86.20,558.20 91.40,558.20 91.40,559.60 94.00,559.60 94.00,560.30 96.20,560.30 96.20,562.60 103.20,562.60 103.20,565.40 114.10,565.40 114.10,569.20 114.90,569.20 114.90,572.60 197.30,572.60" fill="none" stroke="#c2233f" stroke-width="1.2"/>
<line x1="58.00" y1="543.20" x2="58.00" y2="545.60" stroke="#c2233f" stroke-width="0.6"/>
<line x1="60.00" y1="543.20" x2="60.00" y2="545.60" stroke="#c2233f" stroke-width="0.6"/>
<line x1="62.00" y1="543.20" x2="62.00" y2="545.60" stroke="#c2233f" stroke-width="0.6"/>
<line x1="118.00" y1="571.70" x2="118.00" y2="574.10" stroke="#c2233f" stroke-width="0.6"/>
<line x1="124.00" y1="571.70" x2="124.00" y2="574.10" stroke="#c2233f" stroke-width="0.6"/>
<line x1="130.00" y1="571.70" x2="130.00" y2="574.10" stroke="#c2233f" stroke-width="0.6"/>
<line x1="137.00" y1="571.70" x2="137.00" y2="574.10" stroke="#c2233f" stroke-width="0.6"/>
<line x1="145.00" y1="571.70" x2="145.00" y2="574.10" stroke="#c2233f" stroke-width="0.6"/>
<line x1="152.00" y1="571.70" x2="152.00" y2="574.10" stroke="#c2233f" stroke-width="0.6"/>
<line x1="160.00" y1="571.70" x2="160.00" y2="574.10" stroke="#c2233f" stroke-width="0.6"/>
<line x1="168.00" y1="571.70" x2="168.00" y2="574.10" stroke="#c2233f" stroke-width="0.6"/>
<line x1="176.00" y1="571.70" x2="176.00" y2="574.10" stroke="#c2233f" stroke-width="0.6"/>
<line x1="185.00" y1="571.70" x2="185.00" y2="574.10" stroke="#c2233f" stroke-width="0.6"/>
<text x="127.70" y="562.54" font-size="6.6" fill="#c2233f" textLength="65.20" lengthAdjust="spacingAndGlyphs">No risk group (N = 55)</text>
<text x="123.20" y="610.74" font-size="6.6" fill="#5cb860" textLength="54.20" lengthAdjust="spacingAndGlyphs">Risk group (N = 9)</text>
<text x="58.10" y="617.84" font-size="6.6" textLength="26.50" lengthAdjust="spacingAndGlyphs">P &lt; .0001</text>
<text x="113.70" y="630.74" font-size="6.6" fill="#222" textLength="91.30" lengthAdjust="spacingAndGlyphs">Median follow-up: 88.5 months</text>
<text x="225.00" y="364.30" font-size="11.8" fill="#111" font-weight="bold" stroke="#111" stroke-width="0.45">D</text>
<text x="346.30" y="381.66" font-size="8.4" textLength="82.50" lengthAdjust="spacingAndGlyphs">Hazard ratio (95% CI)</text>
<rect x="239.90" y="410.30" width="262.50" height="20.30" fill="#c4d4e2"/>
<rect x="239.90" y="450.90" width="262.50" height="20.60" fill="#c4d4e2"/>
<rect x="239.90" y="492.30" width="262.50" height="19.10" fill="#c4d4e2"/>
<rect x="239.90" y="534.10" width="262.50" height="19.10" fill="#c4d4e2"/>
<rect x="239.90" y="575.10" width="262.50" height="19.60" fill="#c4d4e2"/>
<line x1="414.60" y1="388.00" x2="414.60" y2="605.00" stroke="#7fa6cf" stroke-width="0.7" stroke-dasharray="1.2,1.4"/>
<text x="243.40" y="402.84" font-size="6.6" fill="#111" font-weight="bold">Group</text>
<text x="310.50" y="399.44" font-size="6.6" text-anchor="middle">No risk</text>
<text x="310.50" y="405.94" font-size="6.6" text-anchor="middle" font-style="italic">(N = 55)</text>
<text x="351.80" y="402.54" font-size="6.6" text-anchor="middle">reference</text>
<rect x="412.10" y="397.80" width="5.00" height="5.00" fill="#1b4570"/>
<text x="310.50" y="418.84" font-size="6.6" text-anchor="middle">Risk</text>
<text x="310.50" y="425.64" font-size="6.6" text-anchor="middle" font-style="italic">(N = 9)</text>
<text x="352.30" y="418.84" font-size="6.6" text-anchor="middle">5.88</text>
<text x="352.30" y="425.64" font-size="6.6" text-anchor="middle" font-style="italic">(2.12-16.3)</text>
<line x1="433.89" y1="420.50" x2="486.24" y2="420.50" stroke="#333" stroke-width="0.8"/>
<line x1="433.89" y1="418.90" x2="433.89" y2="422.10" stroke="#333" stroke-width="0.8"/>
<line x1="486.24" y1="418.90" x2="486.24" y2="422.10" stroke="#333" stroke-width="0.8"/>
<rect x="457.37" y="417.80" width="5.40" height="5.40" fill="#1b4570"/>
<text x="489.5" y="422.80" font-size="6.8" fill="#111" font-style="italic">&lt;<tspan font-weight="bold">0.001*</tspan></text>
<text x="243.40" y="442.44" font-size="6.6" fill="#111" font-weight="bold">Age (years)</text>
<text x="310.50" y="439.24" font-size="6.6" text-anchor="middle">&lt; 8</text>
<text x="310.50" y="445.74" font-size="6.6" text-anchor="middle" font-style="italic">(N = 17)</text>
<text x="351.80" y="442.64" font-size="6.6" text-anchor="middle">reference</text>
<rect x="412.10" y="437.90" width="5.00" height="5.00" fill="#1b4570"/>
<text x="310.50" y="459.44" font-size="6.6" text-anchor="middle">≥ 8</text>
<text x="310.50" y="466.24" font-size="6.6" text-anchor="middle" font-style="italic">(N = 45)</text>
<text x="352.30" y="459.44" font-size="6.6" text-anchor="middle">3.28</text>
<text x="352.30" y="466.24" font-size="6.6" text-anchor="middle" font-style="italic">(0.71-15.2)</text>
<line x1="405.81" y1="461.20" x2="484.45" y2="461.20" stroke="#333" stroke-width="0.8"/>
<line x1="405.81" y1="459.60" x2="405.81" y2="462.80" stroke="#333" stroke-width="0.8"/>
<line x1="484.45" y1="459.60" x2="484.45" y2="462.80" stroke="#333" stroke-width="0.8"/>
<rect x="442.39" y="458.50" width="5.40" height="5.40" fill="#1b4570"/>
<text x="500.60" y="463.51" font-size="6.8" text-anchor="end" font-style="italic">0.13</text>
<text x="243.40" y="484.54" font-size="6.6" fill="#111" font-weight="bold">Sex</text>
<text x="310.50" y="480.64" font-size="6.6" text-anchor="middle">Female</text>
<text x="310.50" y="486.94" font-size="6.6" text-anchor="middle" font-style="italic">(N = 22)</text>
<text x="351.80" y="484.44" font-size="6.6" text-anchor="middle">reference</text>
<rect x="412.10" y="479.70" width="5.00" height="5.00" fill="#1b4570"/>
<text x="310.50" y="501.04" font-size="6.6" text-anchor="middle">Male</text>
<text x="310.50" y="507.94" font-size="6.6" text-anchor="middle" font-style="italic">(N = 40)</text>
<text x="352.30" y="501.04" font-size="6.6" text-anchor="middle">1.18</text>
<text x="352.30" y="507.94" font-size="6.6" text-anchor="middle" font-style="italic">(0.46-3.0)</text>
<line x1="394.67" y1="502.80" x2="442.80" y2="502.80" stroke="#333" stroke-width="0.8"/>
<line x1="394.67" y1="501.20" x2="394.67" y2="504.40" stroke="#333" stroke-width="0.8"/>
<line x1="442.80" y1="501.20" x2="442.80" y2="504.40" stroke="#333" stroke-width="0.8"/>
<rect x="416.15" y="500.10" width="5.40" height="5.40" fill="#1b4570"/>
<text x="500.60" y="505.11" font-size="6.8" text-anchor="end" font-style="italic">0.729</text>
<text x="243.40" y="519.04" font-size="6.6" fill="#111" font-weight="bold">Stem cell</text>
<text x="243.40" y="525.34" font-size="6.6" fill="#111" font-weight="bold">transplantation</text>
<text x="243.40" y="531.74" font-size="6.6" fill="#111" font-weight="bold">with 2 years</text>
<text x="243.40" y="538.44" font-size="6.6" fill="#111" font-weight="bold">of onset</text>
<text x="310.50" y="523.04" font-size="6.6" text-anchor="middle">No</text>
<text x="310.50" y="529.44" font-size="6.6" text-anchor="middle" font-style="italic">(N = 37)</text>
<text x="351.80" y="525.24" font-size="6.6" text-anchor="middle">reference</text>
<rect x="412.10" y="520.50" width="5.00" height="5.00" fill="#1b4570"/>
<text x="310.50" y="542.04" font-size="6.6" text-anchor="middle">Yes</text>
<text x="310.50" y="548.44" font-size="6.6" text-anchor="middle" font-style="italic">(N = 23)</text>
<text x="352.30" y="542.04" font-size="6.6" text-anchor="middle">1.99</text>
<text x="352.30" y="548.44" font-size="6.6" text-anchor="middle" font-style="italic">(0.75-5.3)</text>
<line x1="407.22" y1="543.20" x2="457.40" y2="543.20" stroke="#333" stroke-width="0.8"/>
<line x1="407.22" y1="541.60" x2="407.22" y2="544.80" stroke="#333" stroke-width="0.8"/>
<line x1="457.40" y1="541.60" x2="457.40" y2="544.80" stroke="#333" stroke-width="0.8"/>
<rect x="429.56" y="540.50" width="5.40" height="5.40" fill="#1b4570"/>
<text x="500.60" y="545.51" font-size="6.8" text-anchor="end" font-style="italic">0.166</text>
<text x="243.40" y="563.94" font-size="6.6" fill="#111" font-weight="bold">EBV-infected</text>
<text x="243.40" y="571.74" font-size="6.6" fill="#111" font-weight="bold">cell type</text>
<text x="310.50" y="563.94" font-size="6.6" text-anchor="middle">NK</text>
<text x="310.50" y="570.44" font-size="6.6" text-anchor="middle" font-style="italic">(N = 44)</text>
<text x="351.80" y="567.04" font-size="6.6" text-anchor="middle">reference</text>
<rect x="412.10" y="562.30" width="5.00" height="5.00" fill="#1b4570"/>
<text x="310.50" y="583.04" font-size="6.6" text-anchor="middle">T</text>
<text x="310.50" y="589.94" font-size="6.6" text-anchor="middle" font-style="italic">(N = 20)</text>
<text x="352.30" y="583.04" font-size="6.6" text-anchor="middle">0.65</text>
<text x="352.30" y="589.94" font-size="6.6" text-anchor="middle" font-style="italic">(0.23-1.9)</text>
<line x1="376.88" y1="584.50" x2="431.07" y2="584.50" stroke="#333" stroke-width="0.8"/>
<line x1="376.88" y1="582.90" x2="376.88" y2="586.10" stroke="#333" stroke-width="0.8"/>
<line x1="431.07" y1="582.90" x2="431.07" y2="586.10" stroke="#333" stroke-width="0.8"/>
<rect x="400.84" y="581.80" width="5.40" height="5.40" fill="#1b4570"/>
<text x="500.60" y="586.81" font-size="6.8" text-anchor="end" font-style="italic">0.432</text>
<text x="247.50" y="609.94" font-size="6.6" font-style="italic" textLength="111.60" lengthAdjust="spacingAndGlyphs">AIC: 145.81; Concordance Index: 0.74</text>
<line x1="368.60" y1="605.30" x2="502.20" y2="605.30" stroke="#222" stroke-width="1.1"/>
<line x1="373.29" y1="605.30" x2="373.29" y2="608.60" stroke="#222" stroke-width="0.9"/>
<text x="373.29" y="616.94" font-size="6.6" text-anchor="middle">0.2</text>
<line x1="396.81" y1="605.30" x2="396.81" y2="608.60" stroke="#222" stroke-width="0.9"/>
<text x="396.81" y="616.94" font-size="6.6" text-anchor="middle">0.5</text>
<line x1="414.60" y1="605.30" x2="414.60" y2="608.60" stroke="#222" stroke-width="0.9"/>
<text x="414.60" y="616.94" font-size="6.6" text-anchor="middle">1</text>
<line x1="432.39" y1="605.30" x2="432.39" y2="608.60" stroke="#222" stroke-width="0.9"/>
<text x="432.39" y="616.94" font-size="6.6" text-anchor="middle">2</text>
<line x1="455.91" y1="605.30" x2="455.91" y2="608.60" stroke="#222" stroke-width="0.9"/>
<text x="455.91" y="616.94" font-size="6.6" text-anchor="middle">5</text>
<line x1="473.70" y1="605.30" x2="473.70" y2="608.60" stroke="#222" stroke-width="0.9"/>
<text x="473.70" y="616.94" font-size="6.6" text-anchor="middle">10</text>
<line x1="491.49" y1="605.30" x2="491.49" y2="608.60" stroke="#222" stroke-width="0.9"/>
<text x="491.49" y="616.94" font-size="6.6" text-anchor="middle">20</text>
<rect x="0.5" y="0.5" width="519" height="696" fill="none" stroke="#4a4a4a" stroke-width="1.2"/>
</svg>
</body></html>
